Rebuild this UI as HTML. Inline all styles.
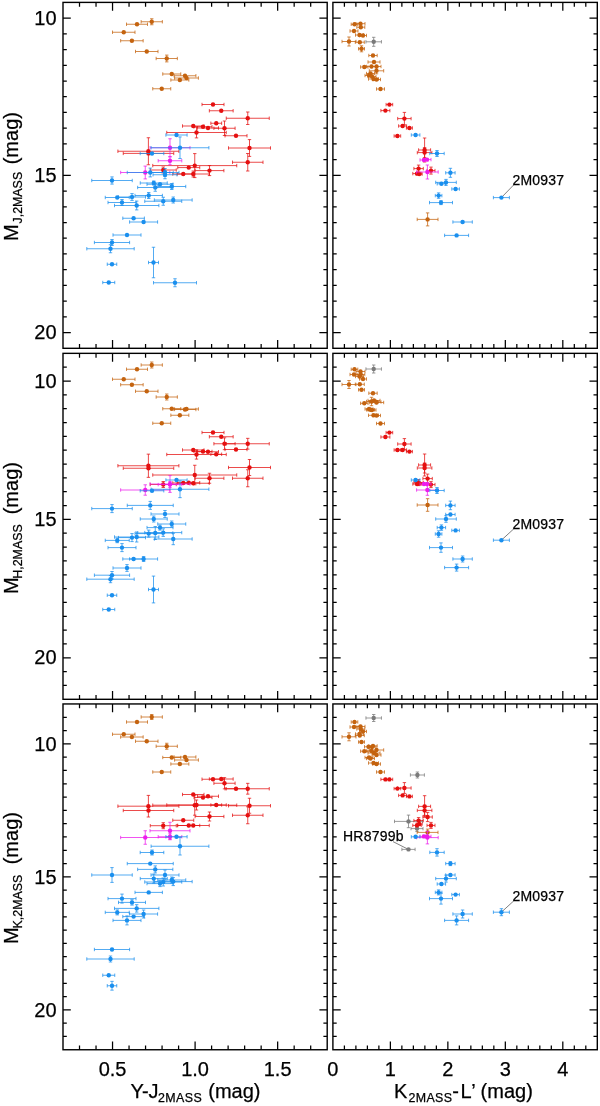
<!DOCTYPE html>
<html><head><meta charset="utf-8"><title>Color-magnitude diagrams</title>
<style>html,body{margin:0;padding:0;background:#fff}svg{display:block;will-change:transform}text{font-family:"Liberation Sans",sans-serif;fill:#000;stroke:#000;stroke-width:0.25px}.tk{font-size:20px}.ax{font-size:20px}.sb{font-size:12.4px}.an{font-size:14px;letter-spacing:0.22px}</style></head><body>
<svg width="600" height="1106" viewBox="0 0 600 1106">
<rect width="600" height="1106" fill="#fff"/>
<path d="M501.4 197.6L513.6 185M501.4 540.2L513.6 529M501.4 912.2L513.6 901M393 841.6L408.4 849.4" stroke="#3a3a3a" stroke-width="0.65" fill="none"/>
<path d="M126.5 24.25H147.5M126.5 22.55V25.95M147.5 22.55V25.95" stroke="#c4630f" stroke-width="0.8" fill="none" stroke-opacity="0.95"/>
<circle cx="137" cy="24.25" r="2.2" fill="#c4630f"/>
<path d="M141.15 21.75H162.35M141.15 20.05V23.45M162.35 20.05V23.45M151.75 18.75V24.75M150.05 18.75H153.45M150.05 24.75H153.45" stroke="#c4630f" stroke-width="0.8" fill="none" stroke-opacity="0.95"/>
<circle cx="151.75" cy="21.75" r="2.2" fill="#c4630f"/>
<path d="M112.5 32.25H135M112.5 30.55V33.95M135 30.55V33.95" stroke="#c4630f" stroke-width="0.8" fill="none" stroke-opacity="0.95"/>
<circle cx="123.75" cy="32.25" r="2.2" fill="#c4630f"/>
<path d="M120.65 40.75H143.15M120.65 39.05V42.45M143.15 39.05V42.45" stroke="#c4630f" stroke-width="0.8" fill="none" stroke-opacity="0.95"/>
<circle cx="131.9" cy="40.75" r="2.2" fill="#c4630f"/>
<path d="M135.5 51.5H158M135.5 49.8V53.2M158 49.8V53.2" stroke="#c4630f" stroke-width="0.8" fill="none" stroke-opacity="0.95"/>
<circle cx="146.75" cy="51.5" r="2.2" fill="#c4630f"/>
<path d="M156.15 58.5H177.35M156.15 56.8V60.2M177.35 56.8V60.2M166.75 55.1V61.9M165.05 55.1H168.45M165.05 61.9H168.45" stroke="#c4630f" stroke-width="0.8" fill="none" stroke-opacity="0.95"/>
<circle cx="166.75" cy="58.5" r="2.2" fill="#c4630f"/>
<path d="M162.75 74H180.75M162.75 72.3V75.7M180.75 72.3V75.7" stroke="#c4630f" stroke-width="0.8" fill="none" stroke-opacity="0.95"/>
<circle cx="171.75" cy="74" r="2.2" fill="#c4630f"/>
<path d="M174.1 75.75H195.9M174.1 74.05V77.45M195.9 74.05V77.45" stroke="#c4630f" stroke-width="0.8" fill="none" stroke-opacity="0.95"/>
<circle cx="185" cy="75.75" r="2.2" fill="#c4630f"/>
<path d="M174.6 78H198.4M174.6 76.3V79.7M198.4 76.3V79.7" stroke="#c4630f" stroke-width="0.8" fill="none" stroke-opacity="0.95"/>
<circle cx="186.5" cy="78" r="2.2" fill="#c4630f"/>
<path d="M170.85 80H188.85M170.85 78.3V81.7M188.85 78.3V81.7" stroke="#c4630f" stroke-width="0.8" fill="none" stroke-opacity="0.95"/>
<circle cx="179.85" cy="80" r="2.2" fill="#c4630f"/>
<path d="M152.75 88.75H170.75M152.75 87.05V90.45M170.75 87.05V90.45" stroke="#c4630f" stroke-width="0.8" fill="none" stroke-opacity="0.95"/>
<circle cx="161.75" cy="88.75" r="2.2" fill="#c4630f"/>
<path d="M202 104.5H224M202 102.8V106.2M224 102.8V106.2" stroke="#e51010" stroke-width="0.8" fill="none" stroke-opacity="0.95"/>
<circle cx="213" cy="104.5" r="2.2" fill="#e51010"/>
<path d="M209.35 110.75H233.15M209.35 109.05V112.45M233.15 109.05V112.45" stroke="#e51010" stroke-width="0.8" fill="none" stroke-opacity="0.95"/>
<circle cx="221.25" cy="110.75" r="2.2" fill="#e51010"/>
<path d="M226.25 118.25H269.25M226.25 116.55V119.95M269.25 116.55V119.95M247.75 112V124.5M246.05 112H249.45M246.05 124.5H249.45" stroke="#e51010" stroke-width="0.8" fill="none" stroke-opacity="0.95"/>
<circle cx="247.75" cy="118.25" r="2.2" fill="#e51010"/>
<path d="M210.85 123.25H221.65M210.85 121.55V124.95M221.65 121.55V124.95" stroke="#e51010" stroke-width="0.8" fill="none" stroke-opacity="0.95"/>
<circle cx="216.25" cy="123.25" r="2.2" fill="#e51010"/>
<path d="M182.5 126H204M182.5 124.3V127.7M204 124.3V127.7" stroke="#e51010" stroke-width="0.8" fill="none" stroke-opacity="0.95"/>
<circle cx="193.25" cy="126" r="2.2" fill="#e51010"/>
<path d="M194 126.75H212M194 125.05V128.45M212 125.05V128.45" stroke="#e51010" stroke-width="0.8" fill="none" stroke-opacity="0.95"/>
<circle cx="203" cy="126.75" r="2.2" fill="#e51010"/>
<path d="M197.5 128H218.5M197.5 126.3V129.7M218.5 126.3V129.7" stroke="#e51010" stroke-width="0.8" fill="none" stroke-opacity="0.95"/>
<circle cx="208" cy="128" r="2.2" fill="#e51010"/>
<path d="M213.9 128.25H235.1M213.9 126.55V129.95M235.1 126.55V129.95M224.5 121V135.5M222.8 121H226.2M222.8 135.5H226.2" stroke="#e51010" stroke-width="0.8" fill="none" stroke-opacity="0.95"/>
<circle cx="224.5" cy="128.25" r="2.2" fill="#e51010"/>
<path d="M166.75 132.5H226.25M166.75 130.8V134.2M226.25 130.8V134.2M196.5 127.1V137.9M194.8 127.1H198.2M194.8 137.9H198.2" stroke="#e51010" stroke-width="0.8" fill="none" stroke-opacity="0.95"/>
<circle cx="196.5" cy="132.5" r="2.2" fill="#e51010"/>
<path d="M225 135.75H247M225 134.05V137.45M247 134.05V137.45" stroke="#e51010" stroke-width="0.8" fill="none" stroke-opacity="0.95"/>
<circle cx="236" cy="135.75" r="2.2" fill="#e51010"/>
<path d="M228.5 148H270.5M228.5 146.3V149.7M270.5 146.3V149.7M249.5 139.6V156.4M247.8 139.6H251.2M247.8 156.4H251.2" stroke="#e51010" stroke-width="0.8" fill="none" stroke-opacity="0.95"/>
<circle cx="249.5" cy="148" r="2.2" fill="#e51010"/>
<path d="M232.5 162.25H263M232.5 160.55V163.95M263 160.55V163.95M247.75 153.5V171M246.05 153.5H249.45M246.05 171H249.45" stroke="#e51010" stroke-width="0.8" fill="none" stroke-opacity="0.95"/>
<circle cx="247.75" cy="162.25" r="2.2" fill="#e51010"/>
<path d="M117.9 151.25H178.9M117.9 149.55V152.95M178.9 149.55V152.95M148.4 137.75V164.75M146.7 137.75H150.1M146.7 164.75H150.1" stroke="#e51010" stroke-width="0.8" fill="none" stroke-opacity="0.95"/>
<circle cx="148.4" cy="151.25" r="2.2" fill="#e51010"/>
<path d="M123.25 153.4H173.75M123.25 151.7V155.1M173.75 151.7V155.1" stroke="#e51010" stroke-width="0.8" fill="none" stroke-opacity="0.95"/>
<circle cx="148.5" cy="153.4" r="2.2" fill="#e51010"/>
<path d="M152.75 165.6H236.75M152.75 163.9V167.3M236.75 163.9V167.3M194.75 153.6V177.6M193.05 153.6H196.45M193.05 177.6H196.45" stroke="#e51010" stroke-width="0.8" fill="none" stroke-opacity="0.95"/>
<circle cx="194.75" cy="165.6" r="2.2" fill="#e51010"/>
<path d="M195.1 170.6H223.9M195.1 168.9V172.3M223.9 168.9V172.3M209.5 165.6V175.6M207.8 165.6H211.2M207.8 175.6H211.2" stroke="#e51010" stroke-width="0.8" fill="none" stroke-opacity="0.95"/>
<circle cx="209.5" cy="170.6" r="2.2" fill="#e51010"/>
<path d="M177.75 167.6H199.75M177.75 165.9V169.3M199.75 165.9V169.3" stroke="#e51010" stroke-width="0.8" fill="none" stroke-opacity="0.95"/>
<circle cx="188.75" cy="167.6" r="2.2" fill="#e51010"/>
<path d="M150.25 170H176.25M150.25 168.3V171.7M176.25 168.3V171.7M163.25 167V173M161.55 167H164.95M161.55 173H164.95" stroke="#e51010" stroke-width="0.8" fill="none" stroke-opacity="0.95"/>
<circle cx="163.25" cy="170" r="2.2" fill="#e51010"/>
<path d="M172.75 174H193.75M172.75 172.3V175.7M193.75 172.3V175.7" stroke="#e51010" stroke-width="0.8" fill="none" stroke-opacity="0.95"/>
<circle cx="183.25" cy="174" r="2.2" fill="#e51010"/>
<path d="M177.25 174H209.25M177.25 172.3V175.7M209.25 172.3V175.7M193.25 171V177M191.55 171H194.95M191.55 177H194.95" stroke="#e51010" stroke-width="0.8" fill="none" stroke-opacity="0.95"/>
<circle cx="193.25" cy="174" r="2.2" fill="#e51010"/>
<path d="M150 147.75H190M150 146.05V149.45M190 146.05V149.45M170 138.75V156.75M168.3 138.75H171.7M168.3 156.75H171.7" stroke="#ec1cec" stroke-width="0.8" fill="none" stroke-opacity="0.95"/>
<circle cx="170" cy="147.75" r="2.2" fill="#ec1cec"/>
<path d="M158.2 160.75H181.8M158.2 159.05V162.45M181.8 159.05V162.45M170 156.75V164.75M168.3 156.75H171.7M168.3 164.75H171.7" stroke="#ec1cec" stroke-width="0.8" fill="none" stroke-opacity="0.95"/>
<circle cx="170" cy="160.75" r="2.2" fill="#ec1cec"/>
<path d="M120.65 172.5H169.85M120.65 170.8V174.2M169.85 170.8V174.2M145.25 166.1V178.9M143.55 166.1H146.95M143.55 178.9H146.95" stroke="#ec1cec" stroke-width="0.8" fill="none" stroke-opacity="0.95"/>
<circle cx="145.25" cy="172.5" r="2.2" fill="#ec1cec"/>
<path d="M165.9 135H187.1M165.9 133.3V136.7M187.1 133.3V136.7" stroke="#1a8fee" stroke-width="0.8" fill="none" stroke-opacity="0.95"/>
<circle cx="176.5" cy="135" r="2.2" fill="#1a8fee"/>
<path d="M151.1 147.75H208.9M151.1 146.05V149.45M208.9 146.05V149.45M180 136.95V158.55M178.3 136.95H181.7M178.3 158.55H181.7" stroke="#1a8fee" stroke-width="0.8" fill="none" stroke-opacity="0.95"/>
<circle cx="180" cy="147.75" r="2.2" fill="#1a8fee"/>
<path d="M140.2 153.5H163.8M140.2 151.8V155.2M163.8 151.8V155.2" stroke="#1a8fee" stroke-width="0.8" fill="none" stroke-opacity="0.95"/>
<circle cx="152" cy="153.5" r="2.2" fill="#1a8fee"/>
<path d="M91.75 180.5H132.25M91.75 178.8V182.2M132.25 178.8V182.2M112 176.9V184.1M110.3 176.9H113.7M110.3 184.1H113.7" stroke="#1a8fee" stroke-width="0.8" fill="none" stroke-opacity="0.95"/>
<circle cx="112" cy="180.5" r="2.2" fill="#1a8fee"/>
<path d="M127.25 172.5H173.25M127.25 170.8V174.2M173.25 170.8V174.2M150.25 168.1V176.9M148.55 168.1H151.95M148.55 176.9H151.95" stroke="#1a8fee" stroke-width="0.8" fill="none" stroke-opacity="0.95"/>
<circle cx="150.25" cy="172.5" r="2.2" fill="#1a8fee"/>
<path d="M151 172.5H179M151 170.8V174.2M179 170.8V174.2M165 168.5V176.5M163.3 168.5H166.7M163.3 176.5H166.7" stroke="#1a8fee" stroke-width="0.8" fill="none" stroke-opacity="0.95"/>
<circle cx="165" cy="172.5" r="2.2" fill="#1a8fee"/>
<path d="M153 174.75H177M153 173.05V176.45M177 173.05V176.45M165 170.75V178.75M163.3 170.75H166.7M163.3 178.75H166.7" stroke="#1a8fee" stroke-width="0.8" fill="none" stroke-opacity="0.95"/>
<circle cx="165" cy="174.75" r="2.2" fill="#1a8fee"/>
<path d="M140.25 183H167.25M140.25 181.3V184.7M167.25 181.3V184.7M153.75 181V185M152.05 181H155.45M152.05 185H155.45" stroke="#1a8fee" stroke-width="0.8" fill="none" stroke-opacity="0.95"/>
<circle cx="153.75" cy="183" r="2.2" fill="#1a8fee"/>
<path d="M147 184.25H173M147 182.55V185.95M173 182.55V185.95" stroke="#1a8fee" stroke-width="0.8" fill="none" stroke-opacity="0.95"/>
<circle cx="160" cy="184.25" r="2.2" fill="#1a8fee"/>
<path d="M137.65 187.5H172.85M137.65 185.8V189.2M172.85 185.8V189.2M155.25 183.75V191.25M153.55 183.75H156.95M153.55 191.25H156.95" stroke="#1a8fee" stroke-width="0.8" fill="none" stroke-opacity="0.95"/>
<circle cx="155.25" cy="187.5" r="2.2" fill="#1a8fee"/>
<path d="M157.75 186.5H185.75M157.75 184.8V188.2M185.75 184.8V188.2M171.75 183.5V189.5M170.05 183.5H173.45M170.05 189.5H173.45" stroke="#1a8fee" stroke-width="0.8" fill="none" stroke-opacity="0.95"/>
<circle cx="171.75" cy="186.5" r="2.2" fill="#1a8fee"/>
<path d="M105.25 197.5H129.25M105.25 195.8V199.2M129.25 195.8V199.2" stroke="#1a8fee" stroke-width="0.8" fill="none" stroke-opacity="0.95"/>
<circle cx="117.25" cy="197.5" r="2.2" fill="#1a8fee"/>
<path d="M118.5 197H145.5M118.5 195.3V198.7M145.5 195.3V198.7M132 193.6V200.4M130.3 193.6H133.7M130.3 200.4H133.7" stroke="#1a8fee" stroke-width="0.8" fill="none" stroke-opacity="0.95"/>
<circle cx="132" cy="197" r="2.2" fill="#1a8fee"/>
<path d="M135 195.5H162.4M135 193.8V197.2M162.4 193.8V197.2M148.7 192.5V198.5M147 192.5H150.4M147 198.5H150.4" stroke="#1a8fee" stroke-width="0.8" fill="none" stroke-opacity="0.95"/>
<circle cx="148.7" cy="195.5" r="2.2" fill="#1a8fee"/>
<path d="M108 202.5H136M108 200.8V204.2M136 200.8V204.2M122 199.5V205.5M120.3 199.5H123.7M120.3 205.5H123.7" stroke="#1a8fee" stroke-width="0.8" fill="none" stroke-opacity="0.95"/>
<circle cx="122" cy="202.5" r="2.2" fill="#1a8fee"/>
<path d="M114.5 205.5H158.9M114.5 203.8V207.2M158.9 203.8V207.2M136.7 201.1V209.9M135 201.1H138.4M135 209.9H138.4" stroke="#1a8fee" stroke-width="0.8" fill="none" stroke-opacity="0.95"/>
<circle cx="136.7" cy="205.5" r="2.2" fill="#1a8fee"/>
<path d="M144.75 201.25H181.75M144.75 199.55V202.95M181.75 199.55V202.95M163.25 197.25V205.25M161.55 197.25H164.95M161.55 205.25H164.95" stroke="#1a8fee" stroke-width="0.8" fill="none" stroke-opacity="0.95"/>
<circle cx="163.25" cy="201.25" r="2.2" fill="#1a8fee"/>
<path d="M154.35 200H192.15M154.35 198.3V201.7M192.15 198.3V201.7M173.25 197V203M171.55 197H174.95M171.55 203H174.95" stroke="#1a8fee" stroke-width="0.8" fill="none" stroke-opacity="0.95"/>
<circle cx="173.25" cy="200" r="2.2" fill="#1a8fee"/>
<path d="M122.8 218.25H144.4M122.8 216.55V219.95M144.4 216.55V219.95" stroke="#1a8fee" stroke-width="0.8" fill="none" stroke-opacity="0.95"/>
<circle cx="133.6" cy="218.25" r="2.2" fill="#1a8fee"/>
<path d="M129.6 222H157.6M129.6 220.3V223.7M157.6 220.3V223.7" stroke="#1a8fee" stroke-width="0.8" fill="none" stroke-opacity="0.95"/>
<circle cx="143.6" cy="222" r="2.2" fill="#1a8fee"/>
<path d="M113 235H141M113 233.3V236.7M141 233.3V236.7" stroke="#1a8fee" stroke-width="0.8" fill="none" stroke-opacity="0.95"/>
<circle cx="127" cy="235" r="2.2" fill="#1a8fee"/>
<path d="M94.4 242.5H129.6M94.4 240.8V244.2M129.6 240.8V244.2M112 239.5V245.5M110.3 239.5H113.7M110.3 245.5H113.7" stroke="#1a8fee" stroke-width="0.8" fill="none" stroke-opacity="0.95"/>
<circle cx="112" cy="242.5" r="2.2" fill="#1a8fee"/>
<path d="M86.8 248.75H134.2M86.8 247.05V250.45M134.2 247.05V250.45M110.5 244.75V252.75M108.8 244.75H112.2M108.8 252.75H112.2" stroke="#1a8fee" stroke-width="0.8" fill="none" stroke-opacity="0.95"/>
<circle cx="110.5" cy="248.75" r="2.2" fill="#1a8fee"/>
<path d="M148.5 262.5H158.5M148.5 260.8V264.2M158.5 260.8V264.2M153.5 247.25V277.75M151.8 247.25H155.2M151.8 277.75H155.2" stroke="#1a8fee" stroke-width="0.8" fill="none" stroke-opacity="0.95"/>
<circle cx="153.5" cy="262.5" r="2.2" fill="#1a8fee"/>
<path d="M107.25 264.25H116.75M107.25 262.55V265.95M116.75 262.55V265.95" stroke="#1a8fee" stroke-width="0.8" fill="none" stroke-opacity="0.95"/>
<circle cx="112" cy="264.25" r="2.2" fill="#1a8fee"/>
<path d="M102.75 282.5H114.75M102.75 280.8V284.2M114.75 280.8V284.2" stroke="#1a8fee" stroke-width="0.8" fill="none" stroke-opacity="0.95"/>
<circle cx="108.75" cy="282.5" r="2.2" fill="#1a8fee"/>
<path d="M153.5 282.75H196.5M153.5 281.05V284.45M196.5 281.05V284.45M175 278.75V286.75M173.3 278.75H176.7M173.3 286.75H176.7" stroke="#1a8fee" stroke-width="0.8" fill="none" stroke-opacity="0.95"/>
<circle cx="175" cy="282.75" r="2.2" fill="#1a8fee"/>
<path d="M365.95 41.8H381.45M365.95 40.1V43.5M381.45 40.1V43.5M373.7 37.3V46.3M372 37.3H375.4M372 46.3H375.4" stroke="#7a7a7a" stroke-width="0.8" fill="none" stroke-opacity="0.95"/>
<circle cx="373.7" cy="41.8" r="2.2" fill="#7a7a7a"/>
<path d="M351.2 24.3H357.8M351.2 22.6V26M357.8 22.6V26" stroke="#c4630f" stroke-width="0.8" fill="none" stroke-opacity="0.95"/>
<circle cx="354.5" cy="24.3" r="2.2" fill="#c4630f"/>
<path d="M356 23.7H365M356 22V25.4M365 22V25.4" stroke="#c4630f" stroke-width="0.8" fill="none" stroke-opacity="0.95"/>
<circle cx="360.5" cy="23.7" r="2.2" fill="#c4630f"/>
<path d="M356.8 27.2H364.8M356.8 25.5V28.9M364.8 25.5V28.9" stroke="#c4630f" stroke-width="0.8" fill="none" stroke-opacity="0.95"/>
<circle cx="360.8" cy="27.2" r="2.2" fill="#c4630f"/>
<path d="M350 31H358M350 29.3V32.7M358 29.3V32.7" stroke="#c4630f" stroke-width="0.8" fill="none" stroke-opacity="0.95"/>
<circle cx="354" cy="31" r="2.2" fill="#c4630f"/>
<path d="M355.5 35H363.5M355.5 33.3V36.7M363.5 33.3V36.7" stroke="#c4630f" stroke-width="0.8" fill="none" stroke-opacity="0.95"/>
<circle cx="359.5" cy="35" r="2.2" fill="#c4630f"/>
<path d="M359.5 35.5H366.5M359.5 33.8V37.2M366.5 33.8V37.2" stroke="#c4630f" stroke-width="0.8" fill="none" stroke-opacity="0.95"/>
<circle cx="363" cy="35.5" r="2.2" fill="#c4630f"/>
<path d="M342 41.5H356M342 39.8V43.2M356 39.8V43.2M349 37V46M347.3 37H350.7M347.3 46H350.7" stroke="#c4630f" stroke-width="0.8" fill="none" stroke-opacity="0.95"/>
<circle cx="349" cy="41.5" r="2.2" fill="#c4630f"/>
<path d="M355.3 42.2H364.3M355.3 40.5V43.9M364.3 40.5V43.9" stroke="#c4630f" stroke-width="0.8" fill="none" stroke-opacity="0.95"/>
<circle cx="359.8" cy="42.2" r="2.2" fill="#c4630f"/>
<path d="M358.5 48.8H364.5M358.5 47.1V50.5M364.5 47.1V50.5M361.5 45.8V51.8M359.8 45.8H363.2M359.8 51.8H363.2" stroke="#c4630f" stroke-width="0.8" fill="none" stroke-opacity="0.95"/>
<circle cx="361.5" cy="48.8" r="2.2" fill="#c4630f"/>
<path d="M368.8 55.5H377.2M368.8 53.8V57.2M377.2 53.8V57.2" stroke="#c4630f" stroke-width="0.8" fill="none" stroke-opacity="0.95"/>
<circle cx="373" cy="55.5" r="2.2" fill="#c4630f"/>
<path d="M368 62H380M368 60.3V63.7M380 60.3V63.7" stroke="#c4630f" stroke-width="0.8" fill="none" stroke-opacity="0.95"/>
<circle cx="374" cy="62" r="2.2" fill="#c4630f"/>
<path d="M360.6 67H368M360.6 65.3V68.7M368 65.3V68.7" stroke="#c4630f" stroke-width="0.8" fill="none" stroke-opacity="0.95"/>
<circle cx="364.3" cy="67" r="2.2" fill="#c4630f"/>
<path d="M366.5 66.5H376.5M366.5 64.8V68.2M376.5 64.8V68.2" stroke="#c4630f" stroke-width="0.8" fill="none" stroke-opacity="0.95"/>
<circle cx="371.5" cy="66.5" r="2.2" fill="#c4630f"/>
<path d="M372 66.5H381M372 64.8V68.2M381 64.8V68.2" stroke="#c4630f" stroke-width="0.8" fill="none" stroke-opacity="0.95"/>
<circle cx="376.5" cy="66.5" r="2.2" fill="#c4630f"/>
<path d="M369.3 70.8H383.7M369.3 69.1V72.5M383.7 69.1V72.5M376.5 67.8V73.8M374.8 67.8H378.2M374.8 73.8H378.2" stroke="#c4630f" stroke-width="0.8" fill="none" stroke-opacity="0.95"/>
<circle cx="376.5" cy="70.8" r="2.2" fill="#c4630f"/>
<path d="M366.5 73.5H374.5M366.5 71.8V75.2M374.5 71.8V75.2" stroke="#c4630f" stroke-width="0.8" fill="none" stroke-opacity="0.95"/>
<circle cx="370.5" cy="73.5" r="2.2" fill="#c4630f"/>
<path d="M365 75.5H373M365 73.8V77.2M373 73.8V77.2" stroke="#c4630f" stroke-width="0.8" fill="none" stroke-opacity="0.95"/>
<circle cx="369" cy="75.5" r="2.2" fill="#c4630f"/>
<path d="M368 76.5H376M368 74.8V78.2M376 74.8V78.2" stroke="#c4630f" stroke-width="0.8" fill="none" stroke-opacity="0.95"/>
<circle cx="372" cy="76.5" r="2.2" fill="#c4630f"/>
<path d="M368.5 79H378.5M368.5 77.3V80.7M378.5 77.3V80.7" stroke="#c4630f" stroke-width="0.8" fill="none" stroke-opacity="0.95"/>
<circle cx="373.5" cy="79" r="2.2" fill="#c4630f"/>
<path d="M372.5 79.5H380.5M372.5 77.8V81.2M380.5 77.8V81.2" stroke="#c4630f" stroke-width="0.8" fill="none" stroke-opacity="0.95"/>
<circle cx="376.5" cy="79.5" r="2.2" fill="#c4630f"/>
<path d="M376.5 89H384.5M376.5 87.3V90.7M384.5 87.3V90.7" stroke="#c4630f" stroke-width="0.8" fill="none" stroke-opacity="0.95"/>
<circle cx="380.5" cy="89" r="2.2" fill="#c4630f"/>
<path d="M417.2 219.4H438M417.2 217.7V221.1M438 217.7V221.1M427.6 212.9V225.9M425.9 212.9H429.3M425.9 225.9H429.3" stroke="#c4630f" stroke-width="0.8" fill="none" stroke-opacity="0.95"/>
<circle cx="427.6" cy="219.4" r="2.2" fill="#c4630f"/>
<path d="M386.1 104.6H392.7M386.1 102.9V106.3M392.7 102.9V106.3" stroke="#e51010" stroke-width="0.8" fill="none" stroke-opacity="0.95"/>
<circle cx="389.4" cy="104.6" r="2.2" fill="#e51010"/>
<path d="M380.9 110.6H389.9M380.9 108.9V112.3M389.9 108.9V112.3" stroke="#e51010" stroke-width="0.8" fill="none" stroke-opacity="0.95"/>
<circle cx="385.4" cy="110.6" r="2.2" fill="#e51010"/>
<path d="M397.7 118.6H411.1M397.7 116.9V120.3M411.1 116.9V120.3M404.4 112.4V124.8M402.7 112.4H406.1M402.7 124.8H406.1" stroke="#e51010" stroke-width="0.8" fill="none" stroke-opacity="0.95"/>
<circle cx="404.4" cy="118.6" r="2.2" fill="#e51010"/>
<path d="M398.6 126H406.6M398.6 124.3V127.7M406.6 124.3V127.7" stroke="#e51010" stroke-width="0.8" fill="none" stroke-opacity="0.95"/>
<circle cx="402.6" cy="126" r="2.2" fill="#e51010"/>
<path d="M406.4 128H412.4M406.4 126.3V129.7M412.4 126.3V129.7" stroke="#e51010" stroke-width="0.8" fill="none" stroke-opacity="0.95"/>
<circle cx="409.4" cy="128" r="2.2" fill="#e51010"/>
<path d="M394.1 136H400.7M394.1 134.3V137.7M400.7 134.3V137.7" stroke="#e51010" stroke-width="0.8" fill="none" stroke-opacity="0.95"/>
<circle cx="397.4" cy="136" r="2.2" fill="#e51010"/>
<path d="M418.6 150H430.6M418.6 148.3V151.7M430.6 148.3V151.7M424.6 138V162M422.9 138H426.3M422.9 162H426.3" stroke="#e51010" stroke-width="0.8" fill="none" stroke-opacity="0.95"/>
<circle cx="424.6" cy="150" r="2.2" fill="#e51010"/>
<path d="M417.3 152.6H431.9M417.3 150.9V154.3M431.9 150.9V154.3M424.6 147.6V157.6M422.9 147.6H426.3M422.9 157.6H426.3" stroke="#e51010" stroke-width="0.8" fill="none" stroke-opacity="0.95"/>
<circle cx="424.6" cy="152.6" r="2.2" fill="#e51010"/>
<path d="M413.9 168.6H423.3M413.9 166.9V170.3M423.3 166.9V170.3M418.6 165.1V172.1M416.9 165.1H420.3M416.9 172.1H420.3" stroke="#e51010" stroke-width="0.8" fill="none" stroke-opacity="0.95"/>
<circle cx="418.6" cy="168.6" r="2.2" fill="#e51010"/>
<path d="M427 170.6H435M427 168.9V172.3M435 168.9V172.3M431 167.1V174.1M429.3 167.1H432.7M429.3 174.1H432.7" stroke="#e51010" stroke-width="0.8" fill="none" stroke-opacity="0.95"/>
<circle cx="431" cy="170.6" r="2.2" fill="#e51010"/>
<path d="M412.8 173.6H421.2M412.8 171.9V175.3M421.2 171.9V175.3" stroke="#e51010" stroke-width="0.8" fill="none" stroke-opacity="0.95"/>
<circle cx="417" cy="173.6" r="2.2" fill="#e51010"/>
<path d="M416.2 174H422.2M416.2 172.3V175.7M422.2 172.3V175.7" stroke="#e51010" stroke-width="0.8" fill="none" stroke-opacity="0.95"/>
<circle cx="419.2" cy="174" r="2.2" fill="#e51010"/>
<path d="M420 160H428M420 158.3V161.7M428 158.3V161.7" stroke="#ec1cec" stroke-width="0.8" fill="none" stroke-opacity="0.95"/>
<circle cx="424" cy="160" r="2.2" fill="#ec1cec"/>
<path d="M423 159.6H431M423 157.9V161.3M431 157.9V161.3" stroke="#ec1cec" stroke-width="0.8" fill="none" stroke-opacity="0.95"/>
<circle cx="427" cy="159.6" r="2.2" fill="#ec1cec"/>
<path d="M416.6 172H438.2M416.6 170.3V173.7M438.2 170.3V173.7M427.4 165V179M425.7 165H429.1M425.7 179H429.1" stroke="#ec1cec" stroke-width="0.8" fill="none" stroke-opacity="0.95"/>
<circle cx="427.4" cy="172" r="2.2" fill="#ec1cec"/>
<path d="M411.3 135H419.9M411.3 133.3V136.7M419.9 133.3V136.7" stroke="#1a8fee" stroke-width="0.8" fill="none" stroke-opacity="0.95"/>
<circle cx="415.6" cy="135" r="2.2" fill="#1a8fee"/>
<path d="M429.8 153.5H444.2M429.8 151.8V155.2M444.2 151.8V155.2M437 150.5V156.5M435.3 150.5H438.7M435.3 156.5H438.7" stroke="#1a8fee" stroke-width="0.8" fill="none" stroke-opacity="0.95"/>
<circle cx="437" cy="153.5" r="2.2" fill="#1a8fee"/>
<path d="M445.7 172.8H455.1M445.7 171.1V174.5M455.1 171.1V174.5M450.4 168.3V177.3M448.7 168.3H452.1M448.7 177.3H452.1" stroke="#1a8fee" stroke-width="0.8" fill="none" stroke-opacity="0.95"/>
<circle cx="450.4" cy="172.8" r="2.2" fill="#1a8fee"/>
<path d="M435.7 182.4H456.3M435.7 180.7V184.1M456.3 180.7V184.1M446 179.4V185.4M444.3 179.4H447.7M444.3 185.4H447.7" stroke="#1a8fee" stroke-width="0.8" fill="none" stroke-opacity="0.95"/>
<circle cx="446" cy="182.4" r="2.2" fill="#1a8fee"/>
<path d="M437.2 183.8H445.6M437.2 182.1V185.5M445.6 182.1V185.5" stroke="#1a8fee" stroke-width="0.8" fill="none" stroke-opacity="0.95"/>
<circle cx="441.4" cy="183.8" r="2.2" fill="#1a8fee"/>
<path d="M451.8 189H459.4M451.8 187.3V190.7M459.4 187.3V190.7" stroke="#1a8fee" stroke-width="0.8" fill="none" stroke-opacity="0.95"/>
<circle cx="455.6" cy="189" r="2.2" fill="#1a8fee"/>
<path d="M435.3 195.6H441.9M435.3 193.9V197.3M441.9 193.9V197.3M438.6 192.9V198.3M436.9 192.9H440.3M436.9 198.3H440.3" stroke="#1a8fee" stroke-width="0.8" fill="none" stroke-opacity="0.95"/>
<circle cx="438.6" cy="195.6" r="2.2" fill="#1a8fee"/>
<path d="M429.5 202.6H452.5M429.5 200.9V204.3M452.5 200.9V204.3M441 200.6V204.6M439.3 200.6H442.7M439.3 204.6H442.7" stroke="#1a8fee" stroke-width="0.8" fill="none" stroke-opacity="0.95"/>
<circle cx="441" cy="202.6" r="2.2" fill="#1a8fee"/>
<path d="M493.4 197.6H509.4M493.4 195.9V199.3M509.4 195.9V199.3" stroke="#1a8fee" stroke-width="0.8" fill="none" stroke-opacity="0.95"/>
<circle cx="501.4" cy="197.6" r="2.2" fill="#1a8fee"/>
<path d="M452.9 222H472.3M452.9 220.3V223.7M472.3 220.3V223.7" stroke="#1a8fee" stroke-width="0.8" fill="none" stroke-opacity="0.95"/>
<circle cx="462.6" cy="222" r="2.2" fill="#1a8fee"/>
<path d="M444.6 235.4H468.6M444.6 233.7V237.1M468.6 233.7V237.1" stroke="#1a8fee" stroke-width="0.8" fill="none" stroke-opacity="0.95"/>
<circle cx="456.6" cy="235.4" r="2.2" fill="#1a8fee"/>
<path d="M79.51 348.3v-4.3M79.51 2.4v4.3M96.03 348.3v-4.3M96.03 2.4v4.3M112.54 348.3v-8.3M112.54 2.4v8.3M129.05 348.3v-4.3M129.05 2.4v4.3M145.56 348.3v-4.3M145.56 2.4v4.3M162.07 348.3v-4.3M162.07 2.4v4.3M178.59 348.3v-4.3M178.59 2.4v4.3M195.1 348.3v-8.3M195.1 2.4v8.3M211.61 348.3v-4.3M211.61 2.4v4.3M228.12 348.3v-4.3M228.12 2.4v4.3M244.64 348.3v-4.3M244.64 2.4v4.3M261.15 348.3v-4.3M261.15 2.4v4.3M277.66 348.3v-8.3M277.66 2.4v8.3M294.17 348.3v-4.3M294.17 2.4v4.3M310.69 348.3v-4.3M310.69 2.4v4.3M63 18.12h7.8M327.2 18.12h-7.8M63 33.85h3.8M327.2 33.85h-3.8M63 49.57h3.8M327.2 49.57h-3.8M63 65.29h3.8M327.2 65.29h-3.8M63 81.01h3.8M327.2 81.01h-3.8M63 96.74h3.8M327.2 96.74h-3.8M63 112.46h3.8M327.2 112.46h-3.8M63 128.18h3.8M327.2 128.18h-3.8M63 143.9h3.8M327.2 143.9h-3.8M63 159.63h3.8M327.2 159.63h-3.8M63 175.35h7.8M327.2 175.35h-7.8M63 191.07h3.8M327.2 191.07h-3.8M63 206.8h3.8M327.2 206.8h-3.8M63 222.52h3.8M327.2 222.52h-3.8M63 238.24h3.8M327.2 238.24h-3.8M63 253.96h3.8M327.2 253.96h-3.8M63 269.69h3.8M327.2 269.69h-3.8M63 285.41h3.8M327.2 285.41h-3.8M63 301.13h3.8M327.2 301.13h-3.8M63 316.85h3.8M327.2 316.85h-3.8M63 332.58h7.8M327.2 332.58h-7.8" stroke="#000" stroke-width="1.25" fill="none"/>
<rect x="63" y="2.4" width="264.2" height="345.9" fill="none" stroke="#000" stroke-width="1.4"/>
<path d="M344.4 348.3v-4.3M344.4 2.4v4.3M355.89 348.3v-4.3M355.89 2.4v4.3M367.39 348.3v-4.3M367.39 2.4v4.3M378.88 348.3v-4.3M378.88 2.4v4.3M390.38 348.3v-8.3M390.38 2.4v8.3M401.87 348.3v-4.3M401.87 2.4v4.3M413.37 348.3v-4.3M413.37 2.4v4.3M424.87 348.3v-4.3M424.87 2.4v4.3M436.36 348.3v-4.3M436.36 2.4v4.3M447.86 348.3v-8.3M447.86 2.4v8.3M459.35 348.3v-4.3M459.35 2.4v4.3M470.85 348.3v-4.3M470.85 2.4v4.3M482.34 348.3v-4.3M482.34 2.4v4.3M493.84 348.3v-4.3M493.84 2.4v4.3M505.33 348.3v-8.3M505.33 2.4v8.3M516.83 348.3v-4.3M516.83 2.4v4.3M528.33 348.3v-4.3M528.33 2.4v4.3M539.82 348.3v-4.3M539.82 2.4v4.3M551.32 348.3v-4.3M551.32 2.4v4.3M562.81 348.3v-8.3M562.81 2.4v8.3M574.31 348.3v-4.3M574.31 2.4v4.3M585.8 348.3v-4.3M585.8 2.4v4.3M332.9 18.12h7.8M597.3 18.12h-7.8M332.9 33.85h3.8M597.3 33.85h-3.8M332.9 49.57h3.8M597.3 49.57h-3.8M332.9 65.29h3.8M597.3 65.29h-3.8M332.9 81.01h3.8M597.3 81.01h-3.8M332.9 96.74h3.8M597.3 96.74h-3.8M332.9 112.46h3.8M597.3 112.46h-3.8M332.9 128.18h3.8M597.3 128.18h-3.8M332.9 143.9h3.8M597.3 143.9h-3.8M332.9 159.63h3.8M597.3 159.63h-3.8M332.9 175.35h7.8M597.3 175.35h-7.8M332.9 191.07h3.8M597.3 191.07h-3.8M332.9 206.8h3.8M597.3 206.8h-3.8M332.9 222.52h3.8M597.3 222.52h-3.8M332.9 238.24h3.8M597.3 238.24h-3.8M332.9 253.96h3.8M597.3 253.96h-3.8M332.9 269.69h3.8M597.3 269.69h-3.8M332.9 285.41h3.8M597.3 285.41h-3.8M332.9 301.13h3.8M597.3 301.13h-3.8M332.9 316.85h3.8M597.3 316.85h-3.8M332.9 332.58h7.8M597.3 332.58h-7.8" stroke="#000" stroke-width="1.25" fill="none"/>
<rect x="332.9" y="2.4" width="264.4" height="345.9" fill="none" stroke="#000" stroke-width="1.4"/>
<text class="tk" x="56.6" y="24.82" text-anchor="end">10</text>
<text class="tk" x="56.6" y="182.05" text-anchor="end">15</text>
<text class="tk" x="56.6" y="339.28" text-anchor="end">20</text>
<text class="ax" transform="translate(17.8 240.9) rotate(-90)">M</text>
<text class="sb" transform="translate(21.6 223.5) rotate(-90)">J,2MASS</text>
<text class="ax" transform="translate(17.8 164.3) rotate(-90)">(mag)</text>
<path d="M126.5 369.25H147.5M126.5 367.55V370.95M147.5 367.55V370.95" stroke="#c4630f" stroke-width="0.8" fill="none" stroke-opacity="0.95"/>
<circle cx="137" cy="369.25" r="2.2" fill="#c4630f"/>
<path d="M141.15 365H162.35M141.15 363.3V366.7M162.35 363.3V366.7M151.75 362V368M150.05 362H153.45M150.05 368H153.45" stroke="#c4630f" stroke-width="0.8" fill="none" stroke-opacity="0.95"/>
<circle cx="151.75" cy="365" r="2.2" fill="#c4630f"/>
<path d="M112.5 379.25H135M112.5 377.55V380.95M135 377.55V380.95" stroke="#c4630f" stroke-width="0.8" fill="none" stroke-opacity="0.95"/>
<circle cx="123.75" cy="379.25" r="2.2" fill="#c4630f"/>
<path d="M120.65 384.75H143.15M120.65 383.05V386.45M143.15 383.05V386.45" stroke="#c4630f" stroke-width="0.8" fill="none" stroke-opacity="0.95"/>
<circle cx="131.9" cy="384.75" r="2.2" fill="#c4630f"/>
<path d="M135.5 391.25H158M135.5 389.55V392.95M158 389.55V392.95" stroke="#c4630f" stroke-width="0.8" fill="none" stroke-opacity="0.95"/>
<circle cx="146.75" cy="391.25" r="2.2" fill="#c4630f"/>
<path d="M156.15 397H177.35M156.15 395.3V398.7M177.35 395.3V398.7M166.75 394V400M165.05 394H168.45M165.05 400H168.45" stroke="#c4630f" stroke-width="0.8" fill="none" stroke-opacity="0.95"/>
<circle cx="166.75" cy="397" r="2.2" fill="#c4630f"/>
<path d="M162.75 408.75H180.75M162.75 407.05V410.45M180.75 407.05V410.45" stroke="#c4630f" stroke-width="0.8" fill="none" stroke-opacity="0.95"/>
<circle cx="171.75" cy="408.75" r="2.2" fill="#c4630f"/>
<path d="M174.1 409.5H195.9M174.1 407.8V411.2M195.9 407.8V411.2" stroke="#c4630f" stroke-width="0.8" fill="none" stroke-opacity="0.95"/>
<circle cx="185" cy="409.5" r="2.2" fill="#c4630f"/>
<path d="M174.6 409H198.4M174.6 407.3V410.7M198.4 407.3V410.7" stroke="#c4630f" stroke-width="0.8" fill="none" stroke-opacity="0.95"/>
<circle cx="186.5" cy="409" r="2.2" fill="#c4630f"/>
<path d="M170.85 415.25H188.85M170.85 413.55V416.95M188.85 413.55V416.95" stroke="#c4630f" stroke-width="0.8" fill="none" stroke-opacity="0.95"/>
<circle cx="179.85" cy="415.25" r="2.2" fill="#c4630f"/>
<path d="M152.75 423.25H170.75M152.75 421.55V424.95M170.75 421.55V424.95" stroke="#c4630f" stroke-width="0.8" fill="none" stroke-opacity="0.95"/>
<circle cx="161.75" cy="423.25" r="2.2" fill="#c4630f"/>
<path d="M202 432.5H224M202 430.8V434.2M224 430.8V434.2" stroke="#e51010" stroke-width="0.8" fill="none" stroke-opacity="0.95"/>
<circle cx="213" cy="432.5" r="2.2" fill="#e51010"/>
<path d="M209.35 436.75H233.15M209.35 435.05V438.45M233.15 435.05V438.45" stroke="#e51010" stroke-width="0.8" fill="none" stroke-opacity="0.95"/>
<circle cx="221.25" cy="436.75" r="2.2" fill="#e51010"/>
<path d="M226.25 443.75H269.25M226.25 442.05V445.45M269.25 442.05V445.45M247.75 438.35V449.15M246.05 438.35H249.45M246.05 449.15H249.45" stroke="#e51010" stroke-width="0.8" fill="none" stroke-opacity="0.95"/>
<circle cx="247.75" cy="443.75" r="2.2" fill="#e51010"/>
<path d="M210.85 454.25H221.65M210.85 452.55V455.95M221.65 452.55V455.95" stroke="#e51010" stroke-width="0.8" fill="none" stroke-opacity="0.95"/>
<circle cx="216.25" cy="454.25" r="2.2" fill="#e51010"/>
<path d="M182.5 450H204M182.5 448.3V451.7M204 448.3V451.7" stroke="#e51010" stroke-width="0.8" fill="none" stroke-opacity="0.95"/>
<circle cx="193.25" cy="450" r="2.2" fill="#e51010"/>
<path d="M194 451.5H212M194 449.8V453.2M212 449.8V453.2" stroke="#e51010" stroke-width="0.8" fill="none" stroke-opacity="0.95"/>
<circle cx="203" cy="451.5" r="2.2" fill="#e51010"/>
<path d="M197.5 451.75H218.5M197.5 450.05V453.45M218.5 450.05V453.45" stroke="#e51010" stroke-width="0.8" fill="none" stroke-opacity="0.95"/>
<circle cx="208" cy="451.75" r="2.2" fill="#e51010"/>
<path d="M213.9 443.75H235.1M213.9 442.05V445.45M235.1 442.05V445.45M224.5 437.85V449.65M222.8 437.85H226.2M222.8 449.65H226.2" stroke="#e51010" stroke-width="0.8" fill="none" stroke-opacity="0.95"/>
<circle cx="224.5" cy="443.75" r="2.2" fill="#e51010"/>
<path d="M166.75 454.5H226.25M166.75 452.8V456.2M226.25 452.8V456.2M196.5 449.9V459.1M194.8 449.9H198.2M194.8 459.1H198.2" stroke="#e51010" stroke-width="0.8" fill="none" stroke-opacity="0.95"/>
<circle cx="196.5" cy="454.5" r="2.2" fill="#e51010"/>
<path d="M225 449.5H247M225 447.8V451.2M247 447.8V451.2" stroke="#e51010" stroke-width="0.8" fill="none" stroke-opacity="0.95"/>
<circle cx="236" cy="449.5" r="2.2" fill="#e51010"/>
<path d="M228.5 467.5H270.5M228.5 465.8V469.2M270.5 465.8V469.2M249.5 459.5V475.5M247.8 459.5H251.2M247.8 475.5H251.2" stroke="#e51010" stroke-width="0.8" fill="none" stroke-opacity="0.95"/>
<circle cx="249.5" cy="467.5" r="2.2" fill="#e51010"/>
<path d="M232.5 478.25H263M232.5 476.55V479.95M263 476.55V479.95M247.75 469.75V486.75M246.05 469.75H249.45M246.05 486.75H249.45" stroke="#e51010" stroke-width="0.8" fill="none" stroke-opacity="0.95"/>
<circle cx="247.75" cy="478.25" r="2.2" fill="#e51010"/>
<path d="M117.9 465.75H178.9M117.9 464.05V467.45M178.9 464.05V467.45M148.4 454.15V477.35M146.7 454.15H150.1M146.7 477.35H150.1" stroke="#e51010" stroke-width="0.8" fill="none" stroke-opacity="0.95"/>
<circle cx="148.4" cy="465.75" r="2.2" fill="#e51010"/>
<path d="M123.25 468.25H173.75M123.25 466.55V469.95M173.75 466.55V469.95" stroke="#e51010" stroke-width="0.8" fill="none" stroke-opacity="0.95"/>
<circle cx="148.5" cy="468.25" r="2.2" fill="#e51010"/>
<path d="M152.75 475H236.75M152.75 473.3V476.7M236.75 473.3V476.7M194.75 465.25V484.75M193.05 465.25H196.45M193.05 484.75H196.45" stroke="#e51010" stroke-width="0.8" fill="none" stroke-opacity="0.95"/>
<circle cx="194.75" cy="475" r="2.2" fill="#e51010"/>
<path d="M195.1 478.25H223.9M195.1 476.55V479.95M223.9 476.55V479.95M209.5 473.25V483.25M207.8 473.25H211.2M207.8 483.25H211.2" stroke="#e51010" stroke-width="0.8" fill="none" stroke-opacity="0.95"/>
<circle cx="209.5" cy="478.25" r="2.2" fill="#e51010"/>
<path d="M177.75 482.75H199.75M177.75 481.05V484.45M199.75 481.05V484.45" stroke="#e51010" stroke-width="0.8" fill="none" stroke-opacity="0.95"/>
<circle cx="188.75" cy="482.75" r="2.2" fill="#e51010"/>
<path d="M150.25 484.5H176.25M150.25 482.8V486.2M176.25 482.8V486.2M163.25 481.5V487.5M161.55 481.5H164.95M161.55 487.5H164.95" stroke="#e51010" stroke-width="0.8" fill="none" stroke-opacity="0.95"/>
<circle cx="163.25" cy="484.5" r="2.2" fill="#e51010"/>
<path d="M172.75 483H193.75M172.75 481.3V484.7M193.75 481.3V484.7" stroke="#e51010" stroke-width="0.8" fill="none" stroke-opacity="0.95"/>
<circle cx="183.25" cy="483" r="2.2" fill="#e51010"/>
<path d="M177.25 483.25H209.25M177.25 481.55V484.95M209.25 481.55V484.95" stroke="#e51010" stroke-width="0.8" fill="none" stroke-opacity="0.95"/>
<circle cx="193.25" cy="483.25" r="2.2" fill="#e51010"/>
<path d="M150 484H190M150 482.3V485.7M190 482.3V485.7M170 475.6V492.4M168.3 475.6H171.7M168.3 492.4H171.7" stroke="#ec1cec" stroke-width="0.8" fill="none" stroke-opacity="0.95"/>
<circle cx="170" cy="484" r="2.2" fill="#ec1cec"/>
<path d="M158.2 484.6H181.8M158.2 482.9V486.3M181.8 482.9V486.3M170 481.6V487.6M168.3 481.6H171.7M168.3 487.6H171.7" stroke="#ec1cec" stroke-width="0.8" fill="none" stroke-opacity="0.95"/>
<circle cx="170" cy="484.6" r="2.2" fill="#ec1cec"/>
<path d="M120.65 490H169.85M120.65 488.3V491.7M169.85 488.3V491.7M145.25 484.8V495.2M143.55 484.8H146.95M143.55 495.2H146.95" stroke="#ec1cec" stroke-width="0.8" fill="none" stroke-opacity="0.95"/>
<circle cx="145.25" cy="490" r="2.2" fill="#ec1cec"/>
<path d="M165.9 480H187.1M165.9 478.3V481.7M187.1 478.3V481.7" stroke="#1a8fee" stroke-width="0.8" fill="none" stroke-opacity="0.95"/>
<circle cx="176.5" cy="480" r="2.2" fill="#1a8fee"/>
<path d="M151.1 489.25H208.9M151.1 487.55V490.95M208.9 487.55V490.95M180 480.85V497.65M178.3 480.85H181.7M178.3 497.65H181.7" stroke="#1a8fee" stroke-width="0.8" fill="none" stroke-opacity="0.95"/>
<circle cx="180" cy="489.25" r="2.2" fill="#1a8fee"/>
<path d="M140.2 490.75H163.8M140.2 489.05V492.45M163.8 489.05V492.45" stroke="#1a8fee" stroke-width="0.8" fill="none" stroke-opacity="0.95"/>
<circle cx="152" cy="490.75" r="2.2" fill="#1a8fee"/>
<path d="M91.75 508.6H132.25M91.75 506.9V510.3M132.25 506.9V510.3M112 504.6V512.6M110.3 504.6H113.7M110.3 512.6H113.7" stroke="#1a8fee" stroke-width="0.8" fill="none" stroke-opacity="0.95"/>
<circle cx="112" cy="508.6" r="2.2" fill="#1a8fee"/>
<path d="M127.25 505.4H173.25M127.25 503.7V507.1M173.25 503.7V507.1M150.25 501.4V509.4M148.55 501.4H151.95M148.55 509.4H151.95" stroke="#1a8fee" stroke-width="0.8" fill="none" stroke-opacity="0.95"/>
<circle cx="150.25" cy="505.4" r="2.2" fill="#1a8fee"/>
<path d="M151 514H179M151 512.3V515.7M179 512.3V515.7M165 510.5V517.5M163.3 510.5H166.7M163.3 517.5H166.7" stroke="#1a8fee" stroke-width="0.8" fill="none" stroke-opacity="0.95"/>
<circle cx="165" cy="514" r="2.2" fill="#1a8fee"/>
<path d="M140.25 519H167.25M140.25 517.3V520.7M167.25 517.3V520.7M153.75 516V522M152.05 516H155.45M152.05 522H155.45" stroke="#1a8fee" stroke-width="0.8" fill="none" stroke-opacity="0.95"/>
<circle cx="153.75" cy="519" r="2.2" fill="#1a8fee"/>
<path d="M147 527.6H173M147 525.9V529.3M173 525.9V529.3M160 525.1V530.1M158.3 525.1H161.7M158.3 530.1H161.7" stroke="#1a8fee" stroke-width="0.8" fill="none" stroke-opacity="0.95"/>
<circle cx="160" cy="527.6" r="2.2" fill="#1a8fee"/>
<path d="M137.65 533H172.85M137.65 531.3V534.7M172.85 531.3V534.7M155.25 526.5V539.5M153.55 526.5H156.95M153.55 539.5H156.95" stroke="#1a8fee" stroke-width="0.8" fill="none" stroke-opacity="0.95"/>
<circle cx="155.25" cy="533" r="2.2" fill="#1a8fee"/>
<path d="M157.75 524H185.75M157.75 522.3V525.7M185.75 522.3V525.7M171.75 521V527M170.05 521H173.45M170.05 527H173.45" stroke="#1a8fee" stroke-width="0.8" fill="none" stroke-opacity="0.95"/>
<circle cx="171.75" cy="524" r="2.2" fill="#1a8fee"/>
<path d="M105.25 540.4H129.25M105.25 538.7V542.1M129.25 538.7V542.1M117.25 538.1V542.7M115.55 538.1H118.95M115.55 542.7H118.95" stroke="#1a8fee" stroke-width="0.8" fill="none" stroke-opacity="0.95"/>
<circle cx="117.25" cy="540.4" r="2.2" fill="#1a8fee"/>
<path d="M118.5 537.6H145.5M118.5 535.9V539.3M145.5 535.9V539.3M132 533.6V541.6M130.3 533.6H133.7M130.3 541.6H133.7" stroke="#1a8fee" stroke-width="0.8" fill="none" stroke-opacity="0.95"/>
<circle cx="132" cy="537.6" r="2.2" fill="#1a8fee"/>
<path d="M135 533.6H162.4M135 531.9V535.3M162.4 531.9V535.3M148.7 530.1V537.1M147 530.1H150.4M147 537.1H150.4" stroke="#1a8fee" stroke-width="0.8" fill="none" stroke-opacity="0.95"/>
<circle cx="148.7" cy="533.6" r="2.2" fill="#1a8fee"/>
<path d="M108 547.6H136M108 545.9V549.3M136 545.9V549.3M122 543.6V551.6M120.3 543.6H123.7M120.3 551.6H123.7" stroke="#1a8fee" stroke-width="0.8" fill="none" stroke-opacity="0.95"/>
<circle cx="122" cy="547.6" r="2.2" fill="#1a8fee"/>
<path d="M114.5 537H158.9M114.5 535.3V538.7M158.9 535.3V538.7M136.7 532V542M135 532H138.4M135 542H138.4" stroke="#1a8fee" stroke-width="0.8" fill="none" stroke-opacity="0.95"/>
<circle cx="136.7" cy="537" r="2.2" fill="#1a8fee"/>
<path d="M144.75 532.6H181.75M144.75 530.9V534.3M181.75 530.9V534.3M163.25 528.8V536.4M161.55 528.8H164.95M161.55 536.4H164.95" stroke="#1a8fee" stroke-width="0.8" fill="none" stroke-opacity="0.95"/>
<circle cx="163.25" cy="532.6" r="2.2" fill="#1a8fee"/>
<path d="M154.35 539H192.15M154.35 537.3V540.7M192.15 537.3V540.7M173.25 533.3V544.7M171.55 533.3H174.95M171.55 544.7H174.95" stroke="#1a8fee" stroke-width="0.8" fill="none" stroke-opacity="0.95"/>
<circle cx="173.25" cy="539" r="2.2" fill="#1a8fee"/>
<path d="M122.8 559H144.4M122.8 557.3V560.7M144.4 557.3V560.7" stroke="#1a8fee" stroke-width="0.8" fill="none" stroke-opacity="0.95"/>
<circle cx="133.6" cy="559" r="2.2" fill="#1a8fee"/>
<path d="M129.6 559H157.6M129.6 557.3V560.7M157.6 557.3V560.7M143.6 556.5V561.5M141.9 556.5H145.3M141.9 561.5H145.3" stroke="#1a8fee" stroke-width="0.8" fill="none" stroke-opacity="0.95"/>
<circle cx="143.6" cy="559" r="2.2" fill="#1a8fee"/>
<path d="M113 568H141M113 566.3V569.7M141 566.3V569.7M127 564.6V571.4M125.3 564.6H128.7M125.3 571.4H128.7" stroke="#1a8fee" stroke-width="0.8" fill="none" stroke-opacity="0.95"/>
<circle cx="127" cy="568" r="2.2" fill="#1a8fee"/>
<path d="M94.4 575.2H129.6M94.4 573.5V576.9M129.6 573.5V576.9M112 571.5V578.9M110.3 571.5H113.7M110.3 578.9H113.7" stroke="#1a8fee" stroke-width="0.8" fill="none" stroke-opacity="0.95"/>
<circle cx="112" cy="575.2" r="2.2" fill="#1a8fee"/>
<path d="M86.8 579.2H134.2M86.8 577.5V580.9M134.2 577.5V580.9M110.5 575.7V582.7M108.8 575.7H112.2M108.8 582.7H112.2" stroke="#1a8fee" stroke-width="0.8" fill="none" stroke-opacity="0.95"/>
<circle cx="110.5" cy="579.2" r="2.2" fill="#1a8fee"/>
<path d="M148.5 589.5H158.5M148.5 587.8V591.2M158.5 587.8V591.2M153.5 576.1V602.9M151.8 576.1H155.2M151.8 602.9H155.2" stroke="#1a8fee" stroke-width="0.8" fill="none" stroke-opacity="0.95"/>
<circle cx="153.5" cy="589.5" r="2.2" fill="#1a8fee"/>
<path d="M107.25 595.25H116.75M107.25 593.55V596.95M116.75 593.55V596.95" stroke="#1a8fee" stroke-width="0.8" fill="none" stroke-opacity="0.95"/>
<circle cx="112" cy="595.25" r="2.2" fill="#1a8fee"/>
<path d="M102.75 609.5H114.75M102.75 607.8V611.2M114.75 607.8V611.2" stroke="#1a8fee" stroke-width="0.8" fill="none" stroke-opacity="0.95"/>
<circle cx="108.75" cy="609.5" r="2.2" fill="#1a8fee"/>
<path d="M365.95 369H381.45M365.95 367.3V370.7M381.45 367.3V370.7M373.7 365V373M372 365H375.4M372 373H375.4" stroke="#7a7a7a" stroke-width="0.8" fill="none" stroke-opacity="0.95"/>
<circle cx="373.7" cy="369" r="2.2" fill="#7a7a7a"/>
<path d="M351.2 369.3H357.8M351.2 367.6V371M357.8 367.6V371" stroke="#c4630f" stroke-width="0.8" fill="none" stroke-opacity="0.95"/>
<circle cx="354.5" cy="369.3" r="2.2" fill="#c4630f"/>
<path d="M356 371.5H365M356 369.8V373.2M365 369.8V373.2" stroke="#c4630f" stroke-width="0.8" fill="none" stroke-opacity="0.95"/>
<circle cx="360.5" cy="371.5" r="2.2" fill="#c4630f"/>
<path d="M356.8 374.5H364.8M356.8 372.8V376.2M364.8 372.8V376.2" stroke="#c4630f" stroke-width="0.8" fill="none" stroke-opacity="0.95"/>
<circle cx="360.8" cy="374.5" r="2.2" fill="#c4630f"/>
<path d="M350 374.5H358M350 372.8V376.2M358 372.8V376.2" stroke="#c4630f" stroke-width="0.8" fill="none" stroke-opacity="0.95"/>
<circle cx="354" cy="374.5" r="2.2" fill="#c4630f"/>
<path d="M355.5 376.5H363.5M355.5 374.8V378.2M363.5 374.8V378.2" stroke="#c4630f" stroke-width="0.8" fill="none" stroke-opacity="0.95"/>
<circle cx="359.5" cy="376.5" r="2.2" fill="#c4630f"/>
<path d="M359.5 379H366.5M359.5 377.3V380.7M366.5 377.3V380.7" stroke="#c4630f" stroke-width="0.8" fill="none" stroke-opacity="0.95"/>
<circle cx="363" cy="379" r="2.2" fill="#c4630f"/>
<path d="M342 384.5H356M342 382.8V386.2M356 382.8V386.2M349 380.5V388.5M347.3 380.5H350.7M347.3 388.5H350.7" stroke="#c4630f" stroke-width="0.8" fill="none" stroke-opacity="0.95"/>
<circle cx="349" cy="384.5" r="2.2" fill="#c4630f"/>
<path d="M355.3 384.3H364.3M355.3 382.6V386M364.3 382.6V386" stroke="#c4630f" stroke-width="0.8" fill="none" stroke-opacity="0.95"/>
<circle cx="359.8" cy="384.3" r="2.2" fill="#c4630f"/>
<path d="M358.5 389.8H364.5M358.5 388.1V391.5M364.5 388.1V391.5" stroke="#c4630f" stroke-width="0.8" fill="none" stroke-opacity="0.95"/>
<circle cx="361.5" cy="389.8" r="2.2" fill="#c4630f"/>
<path d="M368.8 393.2H377.2M368.8 391.5V394.9M377.2 391.5V394.9" stroke="#c4630f" stroke-width="0.8" fill="none" stroke-opacity="0.95"/>
<circle cx="373" cy="393.2" r="2.2" fill="#c4630f"/>
<path d="M368 400.5H380M368 398.8V402.2M380 398.8V402.2" stroke="#c4630f" stroke-width="0.8" fill="none" stroke-opacity="0.95"/>
<circle cx="374" cy="400.5" r="2.2" fill="#c4630f"/>
<path d="M360.6 403.3H368M360.6 401.6V405M368 401.6V405" stroke="#c4630f" stroke-width="0.8" fill="none" stroke-opacity="0.95"/>
<circle cx="364.3" cy="403.3" r="2.2" fill="#c4630f"/>
<path d="M366.5 401.5H376.5M366.5 399.8V403.2M376.5 399.8V403.2M371.5 397.3V405.7M369.8 397.3H373.2M369.8 405.7H373.2" stroke="#c4630f" stroke-width="0.8" fill="none" stroke-opacity="0.95"/>
<circle cx="371.5" cy="401.5" r="2.2" fill="#c4630f"/>
<path d="M372 402H381M372 400.3V403.7M381 400.3V403.7" stroke="#c4630f" stroke-width="0.8" fill="none" stroke-opacity="0.95"/>
<circle cx="376.5" cy="402" r="2.2" fill="#c4630f"/>
<path d="M369.3 402.5H383.7M369.3 400.8V404.2M383.7 400.8V404.2" stroke="#c4630f" stroke-width="0.8" fill="none" stroke-opacity="0.95"/>
<circle cx="376.5" cy="402.5" r="2.2" fill="#c4630f"/>
<path d="M366.5 409.8H374.5M366.5 408.1V411.5M374.5 408.1V411.5" stroke="#c4630f" stroke-width="0.8" fill="none" stroke-opacity="0.95"/>
<circle cx="370.5" cy="409.8" r="2.2" fill="#c4630f"/>
<path d="M365 409H373M365 407.3V410.7M373 407.3V410.7" stroke="#c4630f" stroke-width="0.8" fill="none" stroke-opacity="0.95"/>
<circle cx="369" cy="409" r="2.2" fill="#c4630f"/>
<path d="M368 410H376M368 408.3V411.7M376 408.3V411.7" stroke="#c4630f" stroke-width="0.8" fill="none" stroke-opacity="0.95"/>
<circle cx="372" cy="410" r="2.2" fill="#c4630f"/>
<path d="M368.5 415.3H378.5M368.5 413.6V417M378.5 413.6V417" stroke="#c4630f" stroke-width="0.8" fill="none" stroke-opacity="0.95"/>
<circle cx="373.5" cy="415.3" r="2.2" fill="#c4630f"/>
<path d="M372.5 415.5H380.5M372.5 413.8V417.2M380.5 413.8V417.2" stroke="#c4630f" stroke-width="0.8" fill="none" stroke-opacity="0.95"/>
<circle cx="376.5" cy="415.5" r="2.2" fill="#c4630f"/>
<path d="M376.5 423.5H384.5M376.5 421.8V425.2M384.5 421.8V425.2" stroke="#c4630f" stroke-width="0.8" fill="none" stroke-opacity="0.95"/>
<circle cx="380.5" cy="423.5" r="2.2" fill="#c4630f"/>
<path d="M417.2 505H438M417.2 503.3V506.7M438 503.3V506.7M427.6 498.7V511.3M425.9 498.7H429.3M425.9 511.3H429.3" stroke="#c4630f" stroke-width="0.8" fill="none" stroke-opacity="0.95"/>
<circle cx="427.6" cy="505" r="2.2" fill="#c4630f"/>
<path d="M386.1 432.6H392.7M386.1 430.9V434.3M392.7 430.9V434.3" stroke="#e51010" stroke-width="0.8" fill="none" stroke-opacity="0.95"/>
<circle cx="389.4" cy="432.6" r="2.2" fill="#e51010"/>
<path d="M380.9 437H389.9M380.9 435.3V438.7M389.9 435.3V438.7" stroke="#e51010" stroke-width="0.8" fill="none" stroke-opacity="0.95"/>
<circle cx="385.4" cy="437" r="2.2" fill="#e51010"/>
<path d="M397.7 444H411.1M397.7 442.3V445.7M411.1 442.3V445.7M404.4 438.6V449.4M402.7 438.6H406.1M402.7 449.4H406.1" stroke="#e51010" stroke-width="0.8" fill="none" stroke-opacity="0.95"/>
<circle cx="404.4" cy="444" r="2.2" fill="#e51010"/>
<path d="M398.6 450H406.6M398.6 448.3V451.7M406.6 448.3V451.7" stroke="#e51010" stroke-width="0.8" fill="none" stroke-opacity="0.95"/>
<circle cx="402.6" cy="450" r="2.2" fill="#e51010"/>
<path d="M406.4 451.6H412.4M406.4 449.9V453.3M412.4 449.9V453.3" stroke="#e51010" stroke-width="0.8" fill="none" stroke-opacity="0.95"/>
<circle cx="409.4" cy="451.6" r="2.2" fill="#e51010"/>
<path d="M394.1 450H400.7M394.1 448.3V451.7M400.7 448.3V451.7" stroke="#e51010" stroke-width="0.8" fill="none" stroke-opacity="0.95"/>
<circle cx="397.4" cy="450" r="2.2" fill="#e51010"/>
<path d="M418.6 465H430.6M418.6 463.3V466.7M430.6 463.3V466.7M424.6 454V476M422.9 454H426.3M422.9 476H426.3" stroke="#e51010" stroke-width="0.8" fill="none" stroke-opacity="0.95"/>
<circle cx="424.6" cy="465" r="2.2" fill="#e51010"/>
<path d="M417.3 468H431.9M417.3 466.3V469.7M431.9 466.3V469.7M424.6 463V473M422.9 463H426.3M422.9 473H426.3" stroke="#e51010" stroke-width="0.8" fill="none" stroke-opacity="0.95"/>
<circle cx="424.6" cy="468" r="2.2" fill="#e51010"/>
<path d="M413.9 482.6H423.3M413.9 480.9V484.3M423.3 480.9V484.3M418.6 479.6V485.6M416.9 479.6H420.3M416.9 485.6H420.3" stroke="#e51010" stroke-width="0.8" fill="none" stroke-opacity="0.95"/>
<circle cx="418.6" cy="482.6" r="2.2" fill="#e51010"/>
<path d="M427 484.6H435M427 482.9V486.3M435 482.9V486.3M431 481.6V487.6M429.3 481.6H432.7M429.3 487.6H432.7" stroke="#e51010" stroke-width="0.8" fill="none" stroke-opacity="0.95"/>
<circle cx="431" cy="484.6" r="2.2" fill="#e51010"/>
<path d="M412.8 484H421.2M412.8 482.3V485.7M421.2 482.3V485.7" stroke="#e51010" stroke-width="0.8" fill="none" stroke-opacity="0.95"/>
<circle cx="417" cy="484" r="2.2" fill="#e51010"/>
<path d="M416.2 483.5H422.2M416.2 481.8V485.2M422.2 481.8V485.2" stroke="#e51010" stroke-width="0.8" fill="none" stroke-opacity="0.95"/>
<circle cx="419.2" cy="483.5" r="2.2" fill="#e51010"/>
<path d="M422.9 478.6H432.3M422.9 476.9V480.3M432.3 476.9V480.3M427.6 474.1V483.1M425.9 474.1H429.3M425.9 483.1H429.3" stroke="#e51010" stroke-width="0.8" fill="none" stroke-opacity="0.95"/>
<circle cx="427.6" cy="478.6" r="2.2" fill="#e51010"/>
<path d="M420 484H428M420 482.3V485.7M428 482.3V485.7" stroke="#ec1cec" stroke-width="0.8" fill="none" stroke-opacity="0.95"/>
<circle cx="424" cy="484" r="2.2" fill="#ec1cec"/>
<path d="M423 484H431M423 482.3V485.7M431 482.3V485.7" stroke="#ec1cec" stroke-width="0.8" fill="none" stroke-opacity="0.95"/>
<circle cx="427" cy="484" r="2.2" fill="#ec1cec"/>
<path d="M416.6 490H438.2M416.6 488.3V491.7M438.2 488.3V491.7M427.4 484.7V495.3M425.7 484.7H429.1M425.7 495.3H429.1" stroke="#ec1cec" stroke-width="0.8" fill="none" stroke-opacity="0.95"/>
<circle cx="427.4" cy="490" r="2.2" fill="#ec1cec"/>
<path d="M411.3 480H419.9M411.3 478.3V481.7M419.9 478.3V481.7" stroke="#1a8fee" stroke-width="0.8" fill="none" stroke-opacity="0.95"/>
<circle cx="415.6" cy="480" r="2.2" fill="#1a8fee"/>
<path d="M429.8 490.5H444.2M429.8 488.8V492.2M444.2 488.8V492.2M437 487.5V493.5M435.3 487.5H438.7M435.3 493.5H438.7" stroke="#1a8fee" stroke-width="0.8" fill="none" stroke-opacity="0.95"/>
<circle cx="437" cy="490.5" r="2.2" fill="#1a8fee"/>
<path d="M445.7 505.4H455.1M445.7 503.7V507.1M455.1 503.7V507.1M450.4 501.1V509.7M448.7 501.1H452.1M448.7 509.7H452.1" stroke="#1a8fee" stroke-width="0.8" fill="none" stroke-opacity="0.95"/>
<circle cx="450.4" cy="505.4" r="2.2" fill="#1a8fee"/>
<path d="M445.7 514.5H455.1M445.7 512.8V516.2M455.1 512.8V516.2" stroke="#1a8fee" stroke-width="0.8" fill="none" stroke-opacity="0.95"/>
<circle cx="450.4" cy="514.5" r="2.2" fill="#1a8fee"/>
<path d="M435.7 519H456.3M435.7 517.3V520.7M456.3 517.3V520.7M446 515.7V522.3M444.3 515.7H447.7M444.3 522.3H447.7" stroke="#1a8fee" stroke-width="0.8" fill="none" stroke-opacity="0.95"/>
<circle cx="446" cy="519" r="2.2" fill="#1a8fee"/>
<path d="M437.2 527.6H445.6M437.2 525.9V529.3M445.6 525.9V529.3M441.4 524.9V530.3M439.7 524.9H443.1M439.7 530.3H443.1" stroke="#1a8fee" stroke-width="0.8" fill="none" stroke-opacity="0.95"/>
<circle cx="441.4" cy="527.6" r="2.2" fill="#1a8fee"/>
<path d="M451.8 530.4H459.4M451.8 528.7V532.1M459.4 528.7V532.1" stroke="#1a8fee" stroke-width="0.8" fill="none" stroke-opacity="0.95"/>
<circle cx="455.6" cy="530.4" r="2.2" fill="#1a8fee"/>
<path d="M435.3 534H441.9M435.3 532.3V535.7M441.9 532.3V535.7M438.6 530.8V537.2M436.9 530.8H440.3M436.9 537.2H440.3" stroke="#1a8fee" stroke-width="0.8" fill="none" stroke-opacity="0.95"/>
<circle cx="438.6" cy="534" r="2.2" fill="#1a8fee"/>
<path d="M429.5 547.6H452.5M429.5 545.9V549.3M452.5 545.9V549.3M441 542.9V552.3M439.3 542.9H442.7M439.3 552.3H442.7" stroke="#1a8fee" stroke-width="0.8" fill="none" stroke-opacity="0.95"/>
<circle cx="441" cy="547.6" r="2.2" fill="#1a8fee"/>
<path d="M493.4 540.2H509.4M493.4 538.5V541.9M509.4 538.5V541.9" stroke="#1a8fee" stroke-width="0.8" fill="none" stroke-opacity="0.95"/>
<circle cx="501.4" cy="540.2" r="2.2" fill="#1a8fee"/>
<path d="M452.9 559H472.3M452.9 557.3V560.7M472.3 557.3V560.7M462.6 556V562M460.9 556H464.3M460.9 562H464.3" stroke="#1a8fee" stroke-width="0.8" fill="none" stroke-opacity="0.95"/>
<circle cx="462.6" cy="559" r="2.2" fill="#1a8fee"/>
<path d="M444.6 567.6H468.6M444.6 565.9V569.3M468.6 565.9V569.3M456.6 564.1V571.1M454.9 564.1H458.3M454.9 571.1H458.3" stroke="#1a8fee" stroke-width="0.8" fill="none" stroke-opacity="0.95"/>
<circle cx="456.6" cy="567.6" r="2.2" fill="#1a8fee"/>
<path d="M79.51 699.3v-4.3M79.51 353.35v4.3M96.03 699.3v-4.3M96.03 353.35v4.3M112.54 699.3v-8.3M112.54 353.35v8.3M129.05 699.3v-4.3M129.05 353.35v4.3M145.56 699.3v-4.3M145.56 353.35v4.3M162.07 699.3v-4.3M162.07 353.35v4.3M178.59 699.3v-4.3M178.59 353.35v4.3M195.1 699.3v-8.3M195.1 353.35v8.3M211.61 699.3v-4.3M211.61 353.35v4.3M228.12 699.3v-4.3M228.12 353.35v4.3M244.64 699.3v-4.3M244.64 353.35v4.3M261.15 699.3v-4.3M261.15 353.35v4.3M277.66 699.3v-8.3M277.66 353.35v8.3M294.17 699.3v-4.3M294.17 353.35v4.3M310.69 699.3v-4.3M310.69 353.35v4.3M63 367.19h3.8M327.2 367.19h-3.8M63 381.03h7.8M327.2 381.03h-7.8M63 394.86h3.8M327.2 394.86h-3.8M63 408.7h3.8M327.2 408.7h-3.8M63 422.54h3.8M327.2 422.54h-3.8M63 436.38h3.8M327.2 436.38h-3.8M63 450.22h3.8M327.2 450.22h-3.8M63 464.05h3.8M327.2 464.05h-3.8M63 477.89h3.8M327.2 477.89h-3.8M63 491.73h3.8M327.2 491.73h-3.8M63 505.57h3.8M327.2 505.57h-3.8M63 519.41h7.8M327.2 519.41h-7.8M63 533.24h3.8M327.2 533.24h-3.8M63 547.08h3.8M327.2 547.08h-3.8M63 560.92h3.8M327.2 560.92h-3.8M63 574.76h3.8M327.2 574.76h-3.8M63 588.6h3.8M327.2 588.6h-3.8M63 602.43h3.8M327.2 602.43h-3.8M63 616.27h3.8M327.2 616.27h-3.8M63 630.11h3.8M327.2 630.11h-3.8M63 643.95h3.8M327.2 643.95h-3.8M63 657.79h7.8M327.2 657.79h-7.8M63 671.62h3.8M327.2 671.62h-3.8M63 685.46h3.8M327.2 685.46h-3.8" stroke="#000" stroke-width="1.25" fill="none"/>
<rect x="63" y="353.35" width="264.2" height="345.95" fill="none" stroke="#000" stroke-width="1.4"/>
<path d="M344.4 699.3v-4.3M344.4 353.35v4.3M355.89 699.3v-4.3M355.89 353.35v4.3M367.39 699.3v-4.3M367.39 353.35v4.3M378.88 699.3v-4.3M378.88 353.35v4.3M390.38 699.3v-8.3M390.38 353.35v8.3M401.87 699.3v-4.3M401.87 353.35v4.3M413.37 699.3v-4.3M413.37 353.35v4.3M424.87 699.3v-4.3M424.87 353.35v4.3M436.36 699.3v-4.3M436.36 353.35v4.3M447.86 699.3v-8.3M447.86 353.35v8.3M459.35 699.3v-4.3M459.35 353.35v4.3M470.85 699.3v-4.3M470.85 353.35v4.3M482.34 699.3v-4.3M482.34 353.35v4.3M493.84 699.3v-4.3M493.84 353.35v4.3M505.33 699.3v-8.3M505.33 353.35v8.3M516.83 699.3v-4.3M516.83 353.35v4.3M528.33 699.3v-4.3M528.33 353.35v4.3M539.82 699.3v-4.3M539.82 353.35v4.3M551.32 699.3v-4.3M551.32 353.35v4.3M562.81 699.3v-8.3M562.81 353.35v8.3M574.31 699.3v-4.3M574.31 353.35v4.3M585.8 699.3v-4.3M585.8 353.35v4.3M332.9 367.19h3.8M597.3 367.19h-3.8M332.9 381.03h7.8M597.3 381.03h-7.8M332.9 394.86h3.8M597.3 394.86h-3.8M332.9 408.7h3.8M597.3 408.7h-3.8M332.9 422.54h3.8M597.3 422.54h-3.8M332.9 436.38h3.8M597.3 436.38h-3.8M332.9 450.22h3.8M597.3 450.22h-3.8M332.9 464.05h3.8M597.3 464.05h-3.8M332.9 477.89h3.8M597.3 477.89h-3.8M332.9 491.73h3.8M597.3 491.73h-3.8M332.9 505.57h3.8M597.3 505.57h-3.8M332.9 519.41h7.8M597.3 519.41h-7.8M332.9 533.24h3.8M597.3 533.24h-3.8M332.9 547.08h3.8M597.3 547.08h-3.8M332.9 560.92h3.8M597.3 560.92h-3.8M332.9 574.76h3.8M597.3 574.76h-3.8M332.9 588.6h3.8M597.3 588.6h-3.8M332.9 602.43h3.8M597.3 602.43h-3.8M332.9 616.27h3.8M597.3 616.27h-3.8M332.9 630.11h3.8M597.3 630.11h-3.8M332.9 643.95h3.8M597.3 643.95h-3.8M332.9 657.79h7.8M597.3 657.79h-7.8M332.9 671.62h3.8M597.3 671.62h-3.8M332.9 685.46h3.8M597.3 685.46h-3.8" stroke="#000" stroke-width="1.25" fill="none"/>
<rect x="332.9" y="353.35" width="264.4" height="345.95" fill="none" stroke="#000" stroke-width="1.4"/>
<text class="tk" x="56.6" y="387.73" text-anchor="end">10</text>
<text class="tk" x="56.6" y="526.11" text-anchor="end">15</text>
<text class="tk" x="56.6" y="664.49" text-anchor="end">20</text>
<text class="ax" transform="translate(17.8 593.9) rotate(-90)">M</text>
<text class="sb" transform="translate(21.6 578.7) rotate(-90)">H,2MASS</text>
<text class="ax" transform="translate(17.8 514.3) rotate(-90)">(mag)</text>
<path d="M126.5 722H147.5M126.5 720.3V723.7M147.5 720.3V723.7" stroke="#c4630f" stroke-width="0.8" fill="none" stroke-opacity="0.95"/>
<circle cx="137" cy="722" r="2.2" fill="#c4630f"/>
<path d="M141.15 717H162.35M141.15 715.3V718.7M162.35 715.3V718.7M151.75 714.5V719.5M150.05 714.5H153.45M150.05 719.5H153.45" stroke="#c4630f" stroke-width="0.8" fill="none" stroke-opacity="0.95"/>
<circle cx="151.75" cy="717" r="2.2" fill="#c4630f"/>
<path d="M112.5 734.25H135M112.5 732.55V735.95M135 732.55V735.95" stroke="#c4630f" stroke-width="0.8" fill="none" stroke-opacity="0.95"/>
<circle cx="123.75" cy="734.25" r="2.2" fill="#c4630f"/>
<path d="M120.65 737H143.15M120.65 735.3V738.7M143.15 735.3V738.7" stroke="#c4630f" stroke-width="0.8" fill="none" stroke-opacity="0.95"/>
<circle cx="131.9" cy="737" r="2.2" fill="#c4630f"/>
<path d="M135.5 741.25H158M135.5 739.55V742.95M158 739.55V742.95" stroke="#c4630f" stroke-width="0.8" fill="none" stroke-opacity="0.95"/>
<circle cx="146.75" cy="741.25" r="2.2" fill="#c4630f"/>
<path d="M156.15 746.25H177.35M156.15 744.55V747.95M177.35 744.55V747.95M166.75 743.25V749.25M165.05 743.25H168.45M165.05 749.25H168.45" stroke="#c4630f" stroke-width="0.8" fill="none" stroke-opacity="0.95"/>
<circle cx="166.75" cy="746.25" r="2.2" fill="#c4630f"/>
<path d="M162.75 757.5H180.75M162.75 755.8V759.2M180.75 755.8V759.2" stroke="#c4630f" stroke-width="0.8" fill="none" stroke-opacity="0.95"/>
<circle cx="171.75" cy="757.5" r="2.2" fill="#c4630f"/>
<path d="M174.1 757H195.9M174.1 755.3V758.7M195.9 755.3V758.7" stroke="#c4630f" stroke-width="0.8" fill="none" stroke-opacity="0.95"/>
<circle cx="185" cy="757" r="2.2" fill="#c4630f"/>
<path d="M174.6 760H198.4M174.6 758.3V761.7M198.4 758.3V761.7" stroke="#c4630f" stroke-width="0.8" fill="none" stroke-opacity="0.95"/>
<circle cx="186.5" cy="760" r="2.2" fill="#c4630f"/>
<path d="M170.85 764H188.85M170.85 762.3V765.7M188.85 762.3V765.7" stroke="#c4630f" stroke-width="0.8" fill="none" stroke-opacity="0.95"/>
<circle cx="179.85" cy="764" r="2.2" fill="#c4630f"/>
<path d="M152.75 772H170.75M152.75 770.3V773.7M170.75 770.3V773.7" stroke="#c4630f" stroke-width="0.8" fill="none" stroke-opacity="0.95"/>
<circle cx="161.75" cy="772" r="2.2" fill="#c4630f"/>
<path d="M202 779.25H224M202 777.55V780.95M224 777.55V780.95" stroke="#e51010" stroke-width="0.8" fill="none" stroke-opacity="0.95"/>
<circle cx="213" cy="779.25" r="2.2" fill="#e51010"/>
<path d="M209.35 779H233.15M209.35 777.3V780.7M233.15 777.3V780.7" stroke="#e51010" stroke-width="0.8" fill="none" stroke-opacity="0.95"/>
<circle cx="221.25" cy="779" r="2.2" fill="#e51010"/>
<path d="M226.25 788.75H269.25M226.25 787.05V790.45M269.25 787.05V790.45M247.75 783.35V794.15M246.05 783.35H249.45M246.05 794.15H249.45" stroke="#e51010" stroke-width="0.8" fill="none" stroke-opacity="0.95"/>
<circle cx="247.75" cy="788.75" r="2.2" fill="#e51010"/>
<path d="M210.85 805H221.65M210.85 803.3V806.7M221.65 803.3V806.7" stroke="#e51010" stroke-width="0.8" fill="none" stroke-opacity="0.95"/>
<circle cx="216.25" cy="805" r="2.2" fill="#e51010"/>
<path d="M182.5 794.5H204M182.5 792.8V796.2M204 792.8V796.2" stroke="#e51010" stroke-width="0.8" fill="none" stroke-opacity="0.95"/>
<circle cx="193.25" cy="794.5" r="2.2" fill="#e51010"/>
<path d="M194 797.5H212M194 795.8V799.2M212 795.8V799.2" stroke="#e51010" stroke-width="0.8" fill="none" stroke-opacity="0.95"/>
<circle cx="203" cy="797.5" r="2.2" fill="#e51010"/>
<path d="M197.5 796.25H218.5M197.5 794.55V797.95M218.5 794.55V797.95" stroke="#e51010" stroke-width="0.8" fill="none" stroke-opacity="0.95"/>
<circle cx="208" cy="796.25" r="2.2" fill="#e51010"/>
<path d="M213.9 783.25H235.1M213.9 781.55V784.95M235.1 781.55V784.95M224.5 777.65V788.85M222.8 777.65H226.2M222.8 788.85H226.2" stroke="#e51010" stroke-width="0.8" fill="none" stroke-opacity="0.95"/>
<circle cx="224.5" cy="783.25" r="2.2" fill="#e51010"/>
<path d="M166.75 805H226.25M166.75 803.3V806.7M226.25 803.3V806.7M196.5 800V810M194.8 800H198.2M194.8 810H198.2" stroke="#e51010" stroke-width="0.8" fill="none" stroke-opacity="0.95"/>
<circle cx="196.5" cy="805" r="2.2" fill="#e51010"/>
<path d="M225 788.75H247M225 787.05V790.45M247 787.05V790.45" stroke="#e51010" stroke-width="0.8" fill="none" stroke-opacity="0.95"/>
<circle cx="236" cy="788.75" r="2.2" fill="#e51010"/>
<path d="M228.5 805.75H270.5M228.5 804.05V807.45M270.5 804.05V807.45M249.5 798.25V813.25M247.8 798.25H251.2M247.8 813.25H251.2" stroke="#e51010" stroke-width="0.8" fill="none" stroke-opacity="0.95"/>
<circle cx="249.5" cy="805.75" r="2.2" fill="#e51010"/>
<path d="M232.5 815.25H263M232.5 813.55V816.95M263 813.55V816.95M247.75 806.75V823.75M246.05 806.75H249.45M246.05 823.75H249.45" stroke="#e51010" stroke-width="0.8" fill="none" stroke-opacity="0.95"/>
<circle cx="247.75" cy="815.25" r="2.2" fill="#e51010"/>
<path d="M117.9 806.2H178.9M117.9 804.5V807.9M178.9 804.5V807.9M148.4 795.4V817M146.7 795.4H150.1M146.7 817H150.1" stroke="#e51010" stroke-width="0.8" fill="none" stroke-opacity="0.95"/>
<circle cx="148.4" cy="806.2" r="2.2" fill="#e51010"/>
<path d="M123.25 810.5H173.75M123.25 808.8V812.2M173.75 808.8V812.2" stroke="#e51010" stroke-width="0.8" fill="none" stroke-opacity="0.95"/>
<circle cx="148.5" cy="810.5" r="2.2" fill="#e51010"/>
<path d="M152.75 805.2H236.75M152.75 803.5V806.9M236.75 803.5V806.9M194.75 795.2V815.2M193.05 795.2H196.45M193.05 815.2H196.45" stroke="#e51010" stroke-width="0.8" fill="none" stroke-opacity="0.95"/>
<circle cx="194.75" cy="805.2" r="2.2" fill="#e51010"/>
<path d="M195.1 816.5H223.9M195.1 814.8V818.2M223.9 814.8V818.2M209.5 812V821M207.8 812H211.2M207.8 821H211.2" stroke="#e51010" stroke-width="0.8" fill="none" stroke-opacity="0.95"/>
<circle cx="209.5" cy="816.5" r="2.2" fill="#e51010"/>
<path d="M177.75 825.5H199.75M177.75 823.8V827.2M199.75 823.8V827.2" stroke="#e51010" stroke-width="0.8" fill="none" stroke-opacity="0.95"/>
<circle cx="188.75" cy="825.5" r="2.2" fill="#e51010"/>
<path d="M150.25 825.7H176.25M150.25 824V827.4M176.25 824V827.4M163.25 822.7V828.7M161.55 822.7H164.95M161.55 828.7H164.95" stroke="#e51010" stroke-width="0.8" fill="none" stroke-opacity="0.95"/>
<circle cx="163.25" cy="825.7" r="2.2" fill="#e51010"/>
<path d="M172.75 820.25H193.75M172.75 818.55V821.95M193.75 818.55V821.95" stroke="#e51010" stroke-width="0.8" fill="none" stroke-opacity="0.95"/>
<circle cx="183.25" cy="820.25" r="2.2" fill="#e51010"/>
<path d="M177.25 825.5H209.25M177.25 823.8V827.2M209.25 823.8V827.2" stroke="#e51010" stroke-width="0.8" fill="none" stroke-opacity="0.95"/>
<circle cx="193.25" cy="825.5" r="2.2" fill="#e51010"/>
<path d="M150 830.75H190M150 829.05V832.45M190 829.05V832.45M170 822.25V839.25M168.3 822.25H171.7M168.3 839.25H171.7" stroke="#ec1cec" stroke-width="0.8" fill="none" stroke-opacity="0.95"/>
<circle cx="170" cy="830.75" r="2.2" fill="#ec1cec"/>
<path d="M158.2 836.75H181.8M158.2 835.05V838.45M181.8 835.05V838.45M170 833.75V839.75M168.3 833.75H171.7M168.3 839.75H171.7" stroke="#ec1cec" stroke-width="0.8" fill="none" stroke-opacity="0.95"/>
<circle cx="170" cy="836.75" r="2.2" fill="#ec1cec"/>
<path d="M120.65 837.5H169.85M120.65 835.8V839.2M169.85 835.8V839.2M145.25 830.75V844.25M143.55 830.75H146.95M143.55 844.25H146.95" stroke="#ec1cec" stroke-width="0.8" fill="none" stroke-opacity="0.95"/>
<circle cx="145.25" cy="837.5" r="2.2" fill="#ec1cec"/>
<path d="M165.9 836.75H187.1M165.9 835.05V838.45M187.1 835.05V838.45" stroke="#1a8fee" stroke-width="0.8" fill="none" stroke-opacity="0.95"/>
<circle cx="176.5" cy="836.75" r="2.2" fill="#1a8fee"/>
<path d="M151.1 846.25H208.9M151.1 844.55V847.95M208.9 844.55V847.95M180 837.5V855M178.3 837.5H181.7M178.3 855H181.7" stroke="#1a8fee" stroke-width="0.8" fill="none" stroke-opacity="0.95"/>
<circle cx="180" cy="846.25" r="2.2" fill="#1a8fee"/>
<path d="M140.2 852.5H163.8M140.2 850.8V854.2M163.8 850.8V854.2M152 850V855M150.3 850H153.7M150.3 855H153.7" stroke="#1a8fee" stroke-width="0.8" fill="none" stroke-opacity="0.95"/>
<circle cx="152" cy="852.5" r="2.2" fill="#1a8fee"/>
<path d="M91.75 875H132.25M91.75 873.3V876.7M132.25 873.3V876.7M112 867.6V882.4M110.3 867.6H113.7M110.3 882.4H113.7" stroke="#1a8fee" stroke-width="0.8" fill="none" stroke-opacity="0.95"/>
<circle cx="112" cy="875" r="2.2" fill="#1a8fee"/>
<path d="M127.25 863.6H173.25M127.25 861.9V865.3M173.25 861.9V865.3" stroke="#1a8fee" stroke-width="0.8" fill="none" stroke-opacity="0.95"/>
<circle cx="150.25" cy="863.6" r="2.2" fill="#1a8fee"/>
<path d="M151 875H179M151 873.3V876.7M179 873.3V876.7M165 870V880M163.3 870H166.7M163.3 880H166.7" stroke="#1a8fee" stroke-width="0.8" fill="none" stroke-opacity="0.95"/>
<circle cx="165" cy="875" r="2.2" fill="#1a8fee"/>
<path d="M140.25 878.6H167.25M140.25 876.9V880.3M167.25 876.9V880.3M153.75 874.1V883.1M152.05 874.1H155.45M152.05 883.1H155.45" stroke="#1a8fee" stroke-width="0.8" fill="none" stroke-opacity="0.95"/>
<circle cx="153.75" cy="878.6" r="2.2" fill="#1a8fee"/>
<path d="M147 883.6H173M147 881.9V885.3M173 881.9V885.3M160 880.6V886.6M158.3 880.6H161.7M158.3 886.6H161.7" stroke="#1a8fee" stroke-width="0.8" fill="none" stroke-opacity="0.95"/>
<circle cx="160" cy="883.6" r="2.2" fill="#1a8fee"/>
<path d="M137.65 869.4H172.85M137.65 867.7V871.1M172.85 867.7V871.1M155.25 865.9V872.9M153.55 865.9H156.95M153.55 872.9H156.95" stroke="#1a8fee" stroke-width="0.8" fill="none" stroke-opacity="0.95"/>
<circle cx="155.25" cy="869.4" r="2.2" fill="#1a8fee"/>
<path d="M157.75 880H185.75M157.75 878.3V881.7M185.75 878.3V881.7M171.75 877V883M170.05 877H173.45M170.05 883H173.45" stroke="#1a8fee" stroke-width="0.8" fill="none" stroke-opacity="0.95"/>
<circle cx="171.75" cy="880" r="2.2" fill="#1a8fee"/>
<path d="M105.25 912.4H129.25M105.25 910.7V914.1M129.25 910.7V914.1M117.25 909.9V914.9M115.55 909.9H118.95M115.55 914.9H118.95" stroke="#1a8fee" stroke-width="0.8" fill="none" stroke-opacity="0.95"/>
<circle cx="117.25" cy="912.4" r="2.2" fill="#1a8fee"/>
<path d="M118.5 902.4H145.5M118.5 900.7V904.1M145.5 900.7V904.1M132 899.7V905.1M130.3 899.7H133.7M130.3 905.1H133.7" stroke="#1a8fee" stroke-width="0.8" fill="none" stroke-opacity="0.95"/>
<circle cx="132" cy="902.4" r="2.2" fill="#1a8fee"/>
<path d="M135 892.4H162.4M135 890.7V894.1M162.4 890.7V894.1" stroke="#1a8fee" stroke-width="0.8" fill="none" stroke-opacity="0.95"/>
<circle cx="148.7" cy="892.4" r="2.2" fill="#1a8fee"/>
<path d="M108 898.6H136M108 896.9V900.3M136 896.9V900.3M122 894.1V903.1M120.3 894.1H123.7M120.3 903.1H123.7" stroke="#1a8fee" stroke-width="0.8" fill="none" stroke-opacity="0.95"/>
<circle cx="122" cy="898.6" r="2.2" fill="#1a8fee"/>
<path d="M114.5 908.4H158.9M114.5 906.7V910.1M158.9 906.7V910.1M136.7 904.7V912.1M135 904.7H138.4M135 912.1H138.4" stroke="#1a8fee" stroke-width="0.8" fill="none" stroke-opacity="0.95"/>
<circle cx="136.7" cy="908.4" r="2.2" fill="#1a8fee"/>
<path d="M144.75 882H181.75M144.75 880.3V883.7M181.75 880.3V883.7M163.25 878V886M161.55 878H164.95M161.55 886H164.95" stroke="#1a8fee" stroke-width="0.8" fill="none" stroke-opacity="0.95"/>
<circle cx="163.25" cy="882" r="2.2" fill="#1a8fee"/>
<path d="M154.35 881.6H192.15M154.35 879.9V883.3M192.15 879.9V883.3M173.25 877.6V885.6M171.55 877.6H174.95M171.55 885.6H174.95" stroke="#1a8fee" stroke-width="0.8" fill="none" stroke-opacity="0.95"/>
<circle cx="173.25" cy="881.6" r="2.2" fill="#1a8fee"/>
<path d="M122.8 916.6H144.4M122.8 914.9V918.3M144.4 914.9V918.3" stroke="#1a8fee" stroke-width="0.8" fill="none" stroke-opacity="0.95"/>
<circle cx="133.6" cy="916.6" r="2.2" fill="#1a8fee"/>
<path d="M129.6 914H157.6M129.6 912.3V915.7M157.6 912.3V915.7M143.6 910V918M141.9 910H145.3M141.9 918H145.3" stroke="#1a8fee" stroke-width="0.8" fill="none" stroke-opacity="0.95"/>
<circle cx="143.6" cy="914" r="2.2" fill="#1a8fee"/>
<path d="M113 920.4H141M113 918.7V922.1M141 918.7V922.1M127 915.9V924.9M125.3 915.9H128.7M125.3 924.9H128.7" stroke="#1a8fee" stroke-width="0.8" fill="none" stroke-opacity="0.95"/>
<circle cx="127" cy="920.4" r="2.2" fill="#1a8fee"/>
<path d="M94.4 949.5H129.6M94.4 947.8V951.2M129.6 947.8V951.2" stroke="#1a8fee" stroke-width="0.8" fill="none" stroke-opacity="0.95"/>
<circle cx="112" cy="949.5" r="2.2" fill="#1a8fee"/>
<path d="M86.8 959H134.2M86.8 957.3V960.7M134.2 957.3V960.7M110.5 956V962M108.8 956H112.2M108.8 962H112.2" stroke="#1a8fee" stroke-width="0.8" fill="none" stroke-opacity="0.95"/>
<circle cx="110.5" cy="959" r="2.2" fill="#1a8fee"/>
<path d="M107.25 985.75H116.75M107.25 984.05V987.45M116.75 984.05V987.45M112 981.35V990.15M110.3 981.35H113.7M110.3 990.15H113.7" stroke="#1a8fee" stroke-width="0.8" fill="none" stroke-opacity="0.95"/>
<circle cx="112" cy="985.75" r="2.2" fill="#1a8fee"/>
<path d="M102.75 975.25H114.75M102.75 973.55V976.95M114.75 973.55V976.95" stroke="#1a8fee" stroke-width="0.8" fill="none" stroke-opacity="0.95"/>
<circle cx="108.75" cy="975.25" r="2.2" fill="#1a8fee"/>
<path d="M365.95 718H381.45M365.95 716.3V719.7M381.45 716.3V719.7M373.7 714.5V721.5M372 714.5H375.4M372 721.5H375.4" stroke="#7a7a7a" stroke-width="0.8" fill="none" stroke-opacity="0.95"/>
<circle cx="373.7" cy="718" r="2.2" fill="#7a7a7a"/>
<path d="M410.4 775H424.4M410.4 773.3V776.7M424.4 773.3V776.7M417.4 772V778M415.7 772H419.1M415.7 778H419.1" stroke="#7a7a7a" stroke-width="0.8" fill="none" stroke-opacity="0.95"/>
<circle cx="417.4" cy="775" r="2.2" fill="#7a7a7a"/>
<path d="M394.5 821.4H422.5M394.5 819.7V823.1M422.5 819.7V823.1M408.5 815.1V827.7M406.8 815.1H410.2M406.8 827.7H410.2" stroke="#7a7a7a" stroke-width="0.8" fill="none" stroke-opacity="0.95"/>
<circle cx="408.5" cy="821.4" r="2.2" fill="#7a7a7a"/>
<path d="M401.9 849.4H415.1M401.9 847.7V851.1M415.1 847.7V851.1" stroke="#7a7a7a" stroke-width="0.8" fill="none" stroke-opacity="0.95"/>
<circle cx="408.5" cy="849.4" r="2.2" fill="#7a7a7a"/>
<path d="M411 828.6H423M411 826.9V830.3M423 826.9V830.3M417 825.6V831.6M415.3 825.6H418.7M415.3 831.6H418.7" stroke="#7a7a7a" stroke-width="0.8" fill="none" stroke-opacity="0.95"/>
<circle cx="417" cy="828.6" r="2.2" fill="#7a7a7a"/>
<path d="M351.2 722H357.8M351.2 720.3V723.7M357.8 720.3V723.7" stroke="#c4630f" stroke-width="0.8" fill="none" stroke-opacity="0.95"/>
<circle cx="354.5" cy="722" r="2.2" fill="#c4630f"/>
<path d="M356 726.5H365M356 724.8V728.2M365 724.8V728.2" stroke="#c4630f" stroke-width="0.8" fill="none" stroke-opacity="0.95"/>
<circle cx="360.5" cy="726.5" r="2.2" fill="#c4630f"/>
<path d="M356.8 729H364.8M356.8 727.3V730.7M364.8 727.3V730.7" stroke="#c4630f" stroke-width="0.8" fill="none" stroke-opacity="0.95"/>
<circle cx="360.8" cy="729" r="2.2" fill="#c4630f"/>
<path d="M350 727H358M350 725.3V728.7M358 725.3V728.7" stroke="#c4630f" stroke-width="0.8" fill="none" stroke-opacity="0.95"/>
<circle cx="354" cy="727" r="2.2" fill="#c4630f"/>
<path d="M355.5 734H363.5M355.5 732.3V735.7M363.5 732.3V735.7" stroke="#c4630f" stroke-width="0.8" fill="none" stroke-opacity="0.95"/>
<circle cx="359.5" cy="734" r="2.2" fill="#c4630f"/>
<path d="M359.5 731.5H366.5M359.5 729.8V733.2M366.5 729.8V733.2" stroke="#c4630f" stroke-width="0.8" fill="none" stroke-opacity="0.95"/>
<circle cx="363" cy="731.5" r="2.2" fill="#c4630f"/>
<path d="M342 736.8H356M342 735.1V738.5M356 735.1V738.5M349 732.8V740.8M347.3 732.8H350.7M347.3 740.8H350.7" stroke="#c4630f" stroke-width="0.8" fill="none" stroke-opacity="0.95"/>
<circle cx="349" cy="736.8" r="2.2" fill="#c4630f"/>
<path d="M355.3 735.5H364.3M355.3 733.8V737.2M364.3 733.8V737.2" stroke="#c4630f" stroke-width="0.8" fill="none" stroke-opacity="0.95"/>
<circle cx="359.8" cy="735.5" r="2.2" fill="#c4630f"/>
<path d="M358.5 742H364.5M358.5 740.3V743.7M364.5 740.3V743.7" stroke="#c4630f" stroke-width="0.8" fill="none" stroke-opacity="0.95"/>
<circle cx="361.5" cy="742" r="2.2" fill="#c4630f"/>
<path d="M368.8 746H377.2M368.8 744.3V747.7M377.2 744.3V747.7" stroke="#c4630f" stroke-width="0.8" fill="none" stroke-opacity="0.95"/>
<circle cx="373" cy="746" r="2.2" fill="#c4630f"/>
<path d="M368 753H380M368 751.3V754.7M380 751.3V754.7" stroke="#c4630f" stroke-width="0.8" fill="none" stroke-opacity="0.95"/>
<circle cx="374" cy="753" r="2.2" fill="#c4630f"/>
<path d="M360.6 751.2H368M360.6 749.5V752.9M368 749.5V752.9" stroke="#c4630f" stroke-width="0.8" fill="none" stroke-opacity="0.95"/>
<circle cx="364.3" cy="751.2" r="2.2" fill="#c4630f"/>
<path d="M366.5 751H376.5M366.5 749.3V752.7M376.5 749.3V752.7" stroke="#c4630f" stroke-width="0.8" fill="none" stroke-opacity="0.95"/>
<circle cx="371.5" cy="751" r="2.2" fill="#c4630f"/>
<path d="M372 755H381M372 753.3V756.7M381 753.3V756.7" stroke="#c4630f" stroke-width="0.8" fill="none" stroke-opacity="0.95"/>
<circle cx="376.5" cy="755" r="2.2" fill="#c4630f"/>
<path d="M369.3 750H383.7M369.3 748.3V751.7M383.7 748.3V751.7" stroke="#c4630f" stroke-width="0.8" fill="none" stroke-opacity="0.95"/>
<circle cx="376.5" cy="750" r="2.2" fill="#c4630f"/>
<path d="M366.5 758.5H374.5M366.5 756.8V760.2M374.5 756.8V760.2" stroke="#c4630f" stroke-width="0.8" fill="none" stroke-opacity="0.95"/>
<circle cx="370.5" cy="758.5" r="2.2" fill="#c4630f"/>
<path d="M365 757.5H373M365 755.8V759.2M373 755.8V759.2" stroke="#c4630f" stroke-width="0.8" fill="none" stroke-opacity="0.95"/>
<circle cx="369" cy="757.5" r="2.2" fill="#c4630f"/>
<path d="M368 747H376M368 745.3V748.7M376 745.3V748.7" stroke="#c4630f" stroke-width="0.8" fill="none" stroke-opacity="0.95"/>
<circle cx="372" cy="747" r="2.2" fill="#c4630f"/>
<path d="M364.5 746.8H372.5M364.5 745.1V748.5M372.5 745.1V748.5" stroke="#c4630f" stroke-width="0.8" fill="none" stroke-opacity="0.95"/>
<circle cx="368.5" cy="746.8" r="2.2" fill="#c4630f"/>
<path d="M368.5 763H378.5M368.5 761.3V764.7M378.5 761.3V764.7" stroke="#c4630f" stroke-width="0.8" fill="none" stroke-opacity="0.95"/>
<circle cx="373.5" cy="763" r="2.2" fill="#c4630f"/>
<path d="M372.5 764H380.5M372.5 762.3V765.7M380.5 762.3V765.7" stroke="#c4630f" stroke-width="0.8" fill="none" stroke-opacity="0.95"/>
<circle cx="376.5" cy="764" r="2.2" fill="#c4630f"/>
<path d="M376.5 772H384.5M376.5 770.3V773.7M384.5 770.3V773.7" stroke="#c4630f" stroke-width="0.8" fill="none" stroke-opacity="0.95"/>
<circle cx="380.5" cy="772" r="2.2" fill="#c4630f"/>
<path d="M417.2 832.4H438M417.2 830.7V834.1M438 830.7V834.1M427.6 829.1V835.7M425.9 829.1H429.3M425.9 835.7H429.3" stroke="#c4630f" stroke-width="0.8" fill="none" stroke-opacity="0.95"/>
<circle cx="427.6" cy="832.4" r="2.2" fill="#c4630f"/>
<path d="M386.1 779.4H392.7M386.1 777.7V781.1M392.7 777.7V781.1" stroke="#e51010" stroke-width="0.8" fill="none" stroke-opacity="0.95"/>
<circle cx="389.4" cy="779.4" r="2.2" fill="#e51010"/>
<path d="M380.9 779.4H389.9M380.9 777.7V781.1M389.9 777.7V781.1" stroke="#e51010" stroke-width="0.8" fill="none" stroke-opacity="0.95"/>
<circle cx="385.4" cy="779.4" r="2.2" fill="#e51010"/>
<path d="M397.7 788H411.1M397.7 786.3V789.7M411.1 786.3V789.7M404.4 782.6V793.4M402.7 782.6H406.1M402.7 793.4H406.1" stroke="#e51010" stroke-width="0.8" fill="none" stroke-opacity="0.95"/>
<circle cx="404.4" cy="788" r="2.2" fill="#e51010"/>
<path d="M398.6 795.4H406.6M398.6 793.7V797.1M406.6 793.7V797.1" stroke="#e51010" stroke-width="0.8" fill="none" stroke-opacity="0.95"/>
<circle cx="402.6" cy="795.4" r="2.2" fill="#e51010"/>
<path d="M406.4 796.4H412.4M406.4 794.7V798.1M412.4 794.7V798.1" stroke="#e51010" stroke-width="0.8" fill="none" stroke-opacity="0.95"/>
<circle cx="409.4" cy="796.4" r="2.2" fill="#e51010"/>
<path d="M394.1 788.6H400.7M394.1 786.9V790.3M400.7 786.9V790.3" stroke="#e51010" stroke-width="0.8" fill="none" stroke-opacity="0.95"/>
<circle cx="397.4" cy="788.6" r="2.2" fill="#e51010"/>
<path d="M418.6 806.4H430.6M418.6 804.7V808.1M430.6 804.7V808.1M424.6 795.7V817.1M422.9 795.7H426.3M422.9 817.1H426.3" stroke="#e51010" stroke-width="0.8" fill="none" stroke-opacity="0.95"/>
<circle cx="424.6" cy="806.4" r="2.2" fill="#e51010"/>
<path d="M417.3 810.4H431.9M417.3 808.7V812.1M431.9 808.7V812.1M424.6 805.4V815.4M422.9 805.4H426.3M422.9 815.4H426.3" stroke="#e51010" stroke-width="0.8" fill="none" stroke-opacity="0.95"/>
<circle cx="424.6" cy="810.4" r="2.2" fill="#e51010"/>
<path d="M413.9 820.6H423.3M413.9 818.9V822.3M423.3 818.9V822.3M418.6 817.6V823.6M416.9 817.6H420.3M416.9 823.6H420.3" stroke="#e51010" stroke-width="0.8" fill="none" stroke-opacity="0.95"/>
<circle cx="418.6" cy="820.6" r="2.2" fill="#e51010"/>
<path d="M427 825.4H435M427 823.7V827.1M435 823.7V827.1M431 822.4V828.4M429.3 822.4H432.7M429.3 828.4H432.7" stroke="#e51010" stroke-width="0.8" fill="none" stroke-opacity="0.95"/>
<circle cx="431" cy="825.4" r="2.2" fill="#e51010"/>
<path d="M412.8 825.4H421.2M412.8 823.7V827.1M421.2 823.7V827.1" stroke="#e51010" stroke-width="0.8" fill="none" stroke-opacity="0.95"/>
<circle cx="417" cy="825.4" r="2.2" fill="#e51010"/>
<path d="M416.2 824H422.2M416.2 822.3V825.7M422.2 822.3V825.7" stroke="#e51010" stroke-width="0.8" fill="none" stroke-opacity="0.95"/>
<circle cx="419.2" cy="824" r="2.2" fill="#e51010"/>
<path d="M422.9 817H432.3M422.9 815.3V818.7M432.3 815.3V818.7M427.6 812.4V821.6M425.9 812.4H429.3M425.9 821.6H429.3" stroke="#e51010" stroke-width="0.8" fill="none" stroke-opacity="0.95"/>
<circle cx="427.6" cy="817" r="2.2" fill="#e51010"/>
<path d="M420 836.4H428M420 834.7V838.1M428 834.7V838.1" stroke="#ec1cec" stroke-width="0.8" fill="none" stroke-opacity="0.95"/>
<circle cx="424" cy="836.4" r="2.2" fill="#ec1cec"/>
<path d="M423 836.4H431M423 834.7V838.1M431 834.7V838.1" stroke="#ec1cec" stroke-width="0.8" fill="none" stroke-opacity="0.95"/>
<circle cx="427" cy="836.4" r="2.2" fill="#ec1cec"/>
<path d="M416.6 837.6H438.2M416.6 835.9V839.3M438.2 835.9V839.3M427.4 831.3V843.9M425.7 831.3H429.1M425.7 843.9H429.1" stroke="#ec1cec" stroke-width="0.8" fill="none" stroke-opacity="0.95"/>
<circle cx="427.4" cy="837.6" r="2.2" fill="#ec1cec"/>
<path d="M411.3 836.8H419.9M411.3 835.1V838.5M419.9 835.1V838.5" stroke="#1a8fee" stroke-width="0.8" fill="none" stroke-opacity="0.95"/>
<circle cx="415.6" cy="836.8" r="2.2" fill="#1a8fee"/>
<path d="M429.8 852.4H444.2M429.8 850.7V854.1M444.2 850.7V854.1M437 848.7V856.1M435.3 848.7H438.7M435.3 856.1H438.7" stroke="#1a8fee" stroke-width="0.8" fill="none" stroke-opacity="0.95"/>
<circle cx="437" cy="852.4" r="2.2" fill="#1a8fee"/>
<path d="M445.7 863.6H455.1M445.7 861.9V865.3M455.1 861.9V865.3M450.4 861.6V865.6M448.7 861.6H452.1M448.7 865.6H452.1" stroke="#1a8fee" stroke-width="0.8" fill="none" stroke-opacity="0.95"/>
<circle cx="450.4" cy="863.6" r="2.2" fill="#1a8fee"/>
<path d="M445.7 875H455.1M445.7 873.3V876.7M455.1 873.3V876.7" stroke="#1a8fee" stroke-width="0.8" fill="none" stroke-opacity="0.95"/>
<circle cx="450.4" cy="875" r="2.2" fill="#1a8fee"/>
<path d="M435.7 878.6H456.3M435.7 876.9V880.3M456.3 876.9V880.3M446 875.1V882.1M444.3 875.1H447.7M444.3 882.1H447.7" stroke="#1a8fee" stroke-width="0.8" fill="none" stroke-opacity="0.95"/>
<circle cx="446" cy="878.6" r="2.2" fill="#1a8fee"/>
<path d="M437.2 884H445.6M437.2 882.3V885.7M445.6 882.3V885.7" stroke="#1a8fee" stroke-width="0.8" fill="none" stroke-opacity="0.95"/>
<circle cx="441.4" cy="884" r="2.2" fill="#1a8fee"/>
<path d="M451.8 894.6H459.4M451.8 892.9V896.3M459.4 892.9V896.3" stroke="#1a8fee" stroke-width="0.8" fill="none" stroke-opacity="0.95"/>
<circle cx="455.6" cy="894.6" r="2.2" fill="#1a8fee"/>
<path d="M435.3 892.4H441.9M435.3 890.7V894.1M441.9 890.7V894.1M438.6 889.9V894.9M436.9 889.9H440.3M436.9 894.9H440.3" stroke="#1a8fee" stroke-width="0.8" fill="none" stroke-opacity="0.95"/>
<circle cx="438.6" cy="892.4" r="2.2" fill="#1a8fee"/>
<path d="M429.5 898.6H452.5M429.5 896.9V900.3M452.5 896.9V900.3M441 893.1V904.1M439.3 893.1H442.7M439.3 904.1H442.7" stroke="#1a8fee" stroke-width="0.8" fill="none" stroke-opacity="0.95"/>
<circle cx="441" cy="898.6" r="2.2" fill="#1a8fee"/>
<path d="M493.4 912.2H509.4M493.4 910.5V913.9M509.4 910.5V913.9M501.4 908.7V915.7M499.7 908.7H503.1M499.7 915.7H503.1" stroke="#1a8fee" stroke-width="0.8" fill="none" stroke-opacity="0.95"/>
<circle cx="501.4" cy="912.2" r="2.2" fill="#1a8fee"/>
<path d="M452.9 914H472.3M452.9 912.3V915.7M472.3 912.3V915.7M462.6 910V918M460.9 910H464.3M460.9 918H464.3" stroke="#1a8fee" stroke-width="0.8" fill="none" stroke-opacity="0.95"/>
<circle cx="462.6" cy="914" r="2.2" fill="#1a8fee"/>
<path d="M444.6 920.4H468.6M444.6 918.7V922.1M468.6 918.7V922.1M456.6 915.9V924.9M454.9 915.9H458.3M454.9 924.9H458.3" stroke="#1a8fee" stroke-width="0.8" fill="none" stroke-opacity="0.95"/>
<circle cx="456.6" cy="920.4" r="2.2" fill="#1a8fee"/>
<path d="M79.51 1049.75v-4.3M79.51 703.95v4.3M96.03 1049.75v-4.3M96.03 703.95v4.3M112.54 1049.75v-8.3M112.54 703.95v8.3M129.05 1049.75v-4.3M129.05 703.95v4.3M145.56 1049.75v-4.3M145.56 703.95v4.3M162.07 1049.75v-4.3M162.07 703.95v4.3M178.59 1049.75v-4.3M178.59 703.95v4.3M195.1 1049.75v-8.3M195.1 703.95v8.3M211.61 1049.75v-4.3M211.61 703.95v4.3M228.12 1049.75v-4.3M228.12 703.95v4.3M244.64 1049.75v-4.3M244.64 703.95v4.3M261.15 1049.75v-4.3M261.15 703.95v4.3M277.66 1049.75v-8.3M277.66 703.95v8.3M294.17 1049.75v-4.3M294.17 703.95v4.3M310.69 1049.75v-4.3M310.69 703.95v4.3M63 717.25h3.8M327.2 717.25h-3.8M63 730.55h3.8M327.2 730.55h-3.8M63 743.85h7.8M327.2 743.85h-7.8M63 757.15h3.8M327.2 757.15h-3.8M63 770.45h3.8M327.2 770.45h-3.8M63 783.75h3.8M327.2 783.75h-3.8M63 797.05h3.8M327.2 797.05h-3.8M63 810.35h3.8M327.2 810.35h-3.8M63 823.65h3.8M327.2 823.65h-3.8M63 836.95h3.8M327.2 836.95h-3.8M63 850.25h3.8M327.2 850.25h-3.8M63 863.55h3.8M327.2 863.55h-3.8M63 876.85h7.8M327.2 876.85h-7.8M63 890.15h3.8M327.2 890.15h-3.8M63 903.45h3.8M327.2 903.45h-3.8M63 916.75h3.8M327.2 916.75h-3.8M63 930.05h3.8M327.2 930.05h-3.8M63 943.35h3.8M327.2 943.35h-3.8M63 956.65h3.8M327.2 956.65h-3.8M63 969.95h3.8M327.2 969.95h-3.8M63 983.25h3.8M327.2 983.25h-3.8M63 996.55h3.8M327.2 996.55h-3.8M63 1009.85h7.8M327.2 1009.85h-7.8M63 1023.15h3.8M327.2 1023.15h-3.8M63 1036.45h3.8M327.2 1036.45h-3.8" stroke="#000" stroke-width="1.25" fill="none"/>
<rect x="63" y="703.95" width="264.2" height="345.8" fill="none" stroke="#000" stroke-width="1.4"/>
<path d="M344.4 1049.75v-4.3M344.4 703.95v4.3M355.89 1049.75v-4.3M355.89 703.95v4.3M367.39 1049.75v-4.3M367.39 703.95v4.3M378.88 1049.75v-4.3M378.88 703.95v4.3M390.38 1049.75v-8.3M390.38 703.95v8.3M401.87 1049.75v-4.3M401.87 703.95v4.3M413.37 1049.75v-4.3M413.37 703.95v4.3M424.87 1049.75v-4.3M424.87 703.95v4.3M436.36 1049.75v-4.3M436.36 703.95v4.3M447.86 1049.75v-8.3M447.86 703.95v8.3M459.35 1049.75v-4.3M459.35 703.95v4.3M470.85 1049.75v-4.3M470.85 703.95v4.3M482.34 1049.75v-4.3M482.34 703.95v4.3M493.84 1049.75v-4.3M493.84 703.95v4.3M505.33 1049.75v-8.3M505.33 703.95v8.3M516.83 1049.75v-4.3M516.83 703.95v4.3M528.33 1049.75v-4.3M528.33 703.95v4.3M539.82 1049.75v-4.3M539.82 703.95v4.3M551.32 1049.75v-4.3M551.32 703.95v4.3M562.81 1049.75v-8.3M562.81 703.95v8.3M574.31 1049.75v-4.3M574.31 703.95v4.3M585.8 1049.75v-4.3M585.8 703.95v4.3M332.9 717.25h3.8M597.3 717.25h-3.8M332.9 730.55h3.8M597.3 730.55h-3.8M332.9 743.85h7.8M597.3 743.85h-7.8M332.9 757.15h3.8M597.3 757.15h-3.8M332.9 770.45h3.8M597.3 770.45h-3.8M332.9 783.75h3.8M597.3 783.75h-3.8M332.9 797.05h3.8M597.3 797.05h-3.8M332.9 810.35h3.8M597.3 810.35h-3.8M332.9 823.65h3.8M597.3 823.65h-3.8M332.9 836.95h3.8M597.3 836.95h-3.8M332.9 850.25h3.8M597.3 850.25h-3.8M332.9 863.55h3.8M597.3 863.55h-3.8M332.9 876.85h7.8M597.3 876.85h-7.8M332.9 890.15h3.8M597.3 890.15h-3.8M332.9 903.45h3.8M597.3 903.45h-3.8M332.9 916.75h3.8M597.3 916.75h-3.8M332.9 930.05h3.8M597.3 930.05h-3.8M332.9 943.35h3.8M597.3 943.35h-3.8M332.9 956.65h3.8M597.3 956.65h-3.8M332.9 969.95h3.8M597.3 969.95h-3.8M332.9 983.25h3.8M597.3 983.25h-3.8M332.9 996.55h3.8M597.3 996.55h-3.8M332.9 1009.85h7.8M597.3 1009.85h-7.8M332.9 1023.15h3.8M597.3 1023.15h-3.8M332.9 1036.45h3.8M597.3 1036.45h-3.8" stroke="#000" stroke-width="1.25" fill="none"/>
<rect x="332.9" y="703.95" width="264.4" height="345.8" fill="none" stroke="#000" stroke-width="1.4"/>
<text class="tk" x="56.6" y="750.55" text-anchor="end">10</text>
<text class="tk" x="56.6" y="883.55" text-anchor="end">15</text>
<text class="tk" x="56.6" y="1016.55" text-anchor="end">20</text>
<text class="ax" transform="translate(17.8 943.9) rotate(-90)">M</text>
<text class="sb" transform="translate(21.6 928.4) rotate(-90)">K,2MASS</text>
<text class="ax" transform="translate(17.8 864.3) rotate(-90)">(mag)</text>
<text class="tk" x="112.54" y="1075.6" text-anchor="middle">0.5</text>
<text class="tk" x="195.1" y="1075.6" text-anchor="middle">1.0</text>
<text class="tk" x="277.66" y="1075.6" text-anchor="middle">1.5</text>
<text class="tk" x="332.9" y="1075.6" text-anchor="middle">0</text>
<text class="tk" x="390.38" y="1075.6" text-anchor="middle">1</text>
<text class="tk" x="447.86" y="1075.6" text-anchor="middle">2</text>
<text class="tk" x="505.33" y="1075.6" text-anchor="middle">3</text>
<text class="tk" x="562.81" y="1075.6" text-anchor="middle">4</text>
<text class="ax" x="130.4" y="1097.7">Y-J</text>
<text class="sb" x="157.9" y="1102.2" textLength="43.8" lengthAdjust="spacing">2MASS</text>
<text class="ax" x="208.3" y="1097.7">(mag)</text>
<text class="ax" x="393.9" y="1097.7">K</text>
<text class="sb" x="408.4" y="1102.2" textLength="43.6" lengthAdjust="spacing">2MASS</text>
<text class="ax" x="452.2" y="1097.7">-</text>
<text class="ax" x="460.4" y="1097.7" letter-spacing="0.8">L’</text>
<text class="ax" x="480.6" y="1097.7">(mag)</text>
<text class="an" x="512.4" y="185">2M0937</text>
<text class="an" x="512.4" y="529">2M0937</text>
<text class="an" x="512.4" y="901">2M0937</text>
<text class="an" x="343" y="841.4" letter-spacing="0.42">HR8799b</text>
</svg></body></html>
